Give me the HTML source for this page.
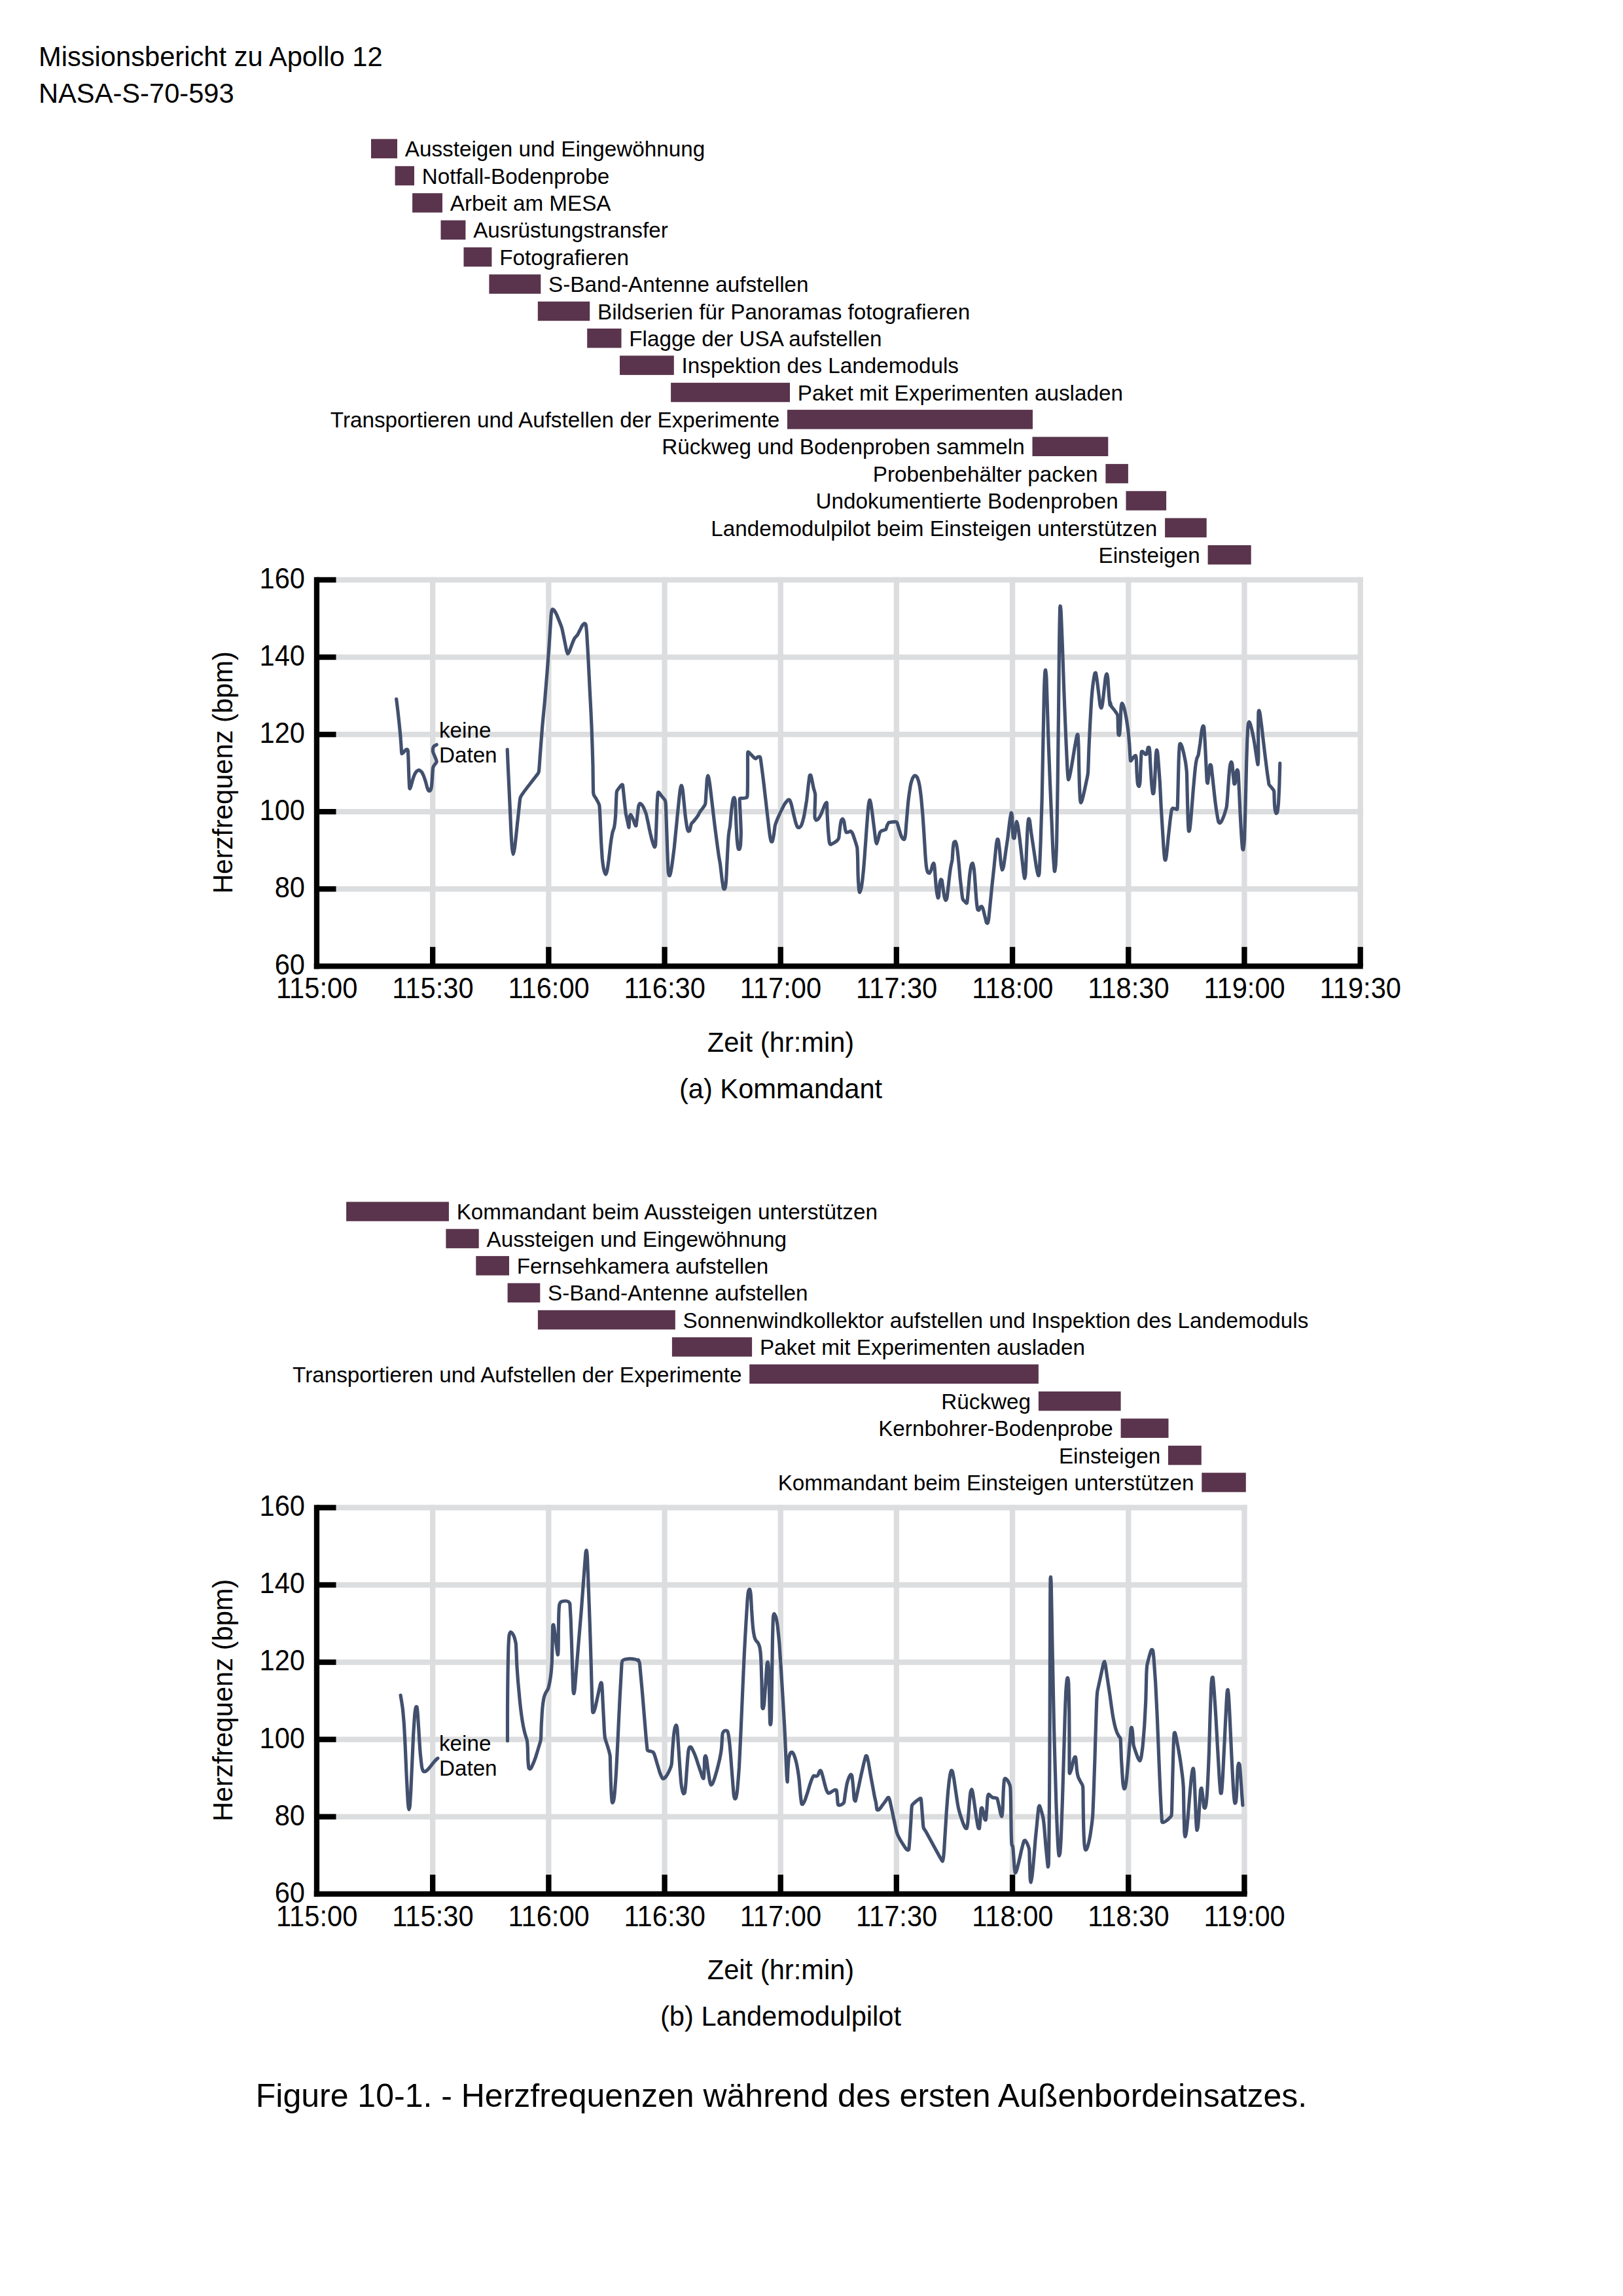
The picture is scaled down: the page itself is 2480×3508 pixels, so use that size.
<!DOCTYPE html>
<html lang="de">
<head>
<meta charset="utf-8">
<title>Figure 10-1 - Herzfrequenzen während des ersten Außenbordeinsatzes</title>
<style>
html,body{margin:0;padding:0;background:#fff;}
body{width:2480px;height:3508px;overflow:hidden;}
svg{display:block;}
text{font-family:"Liberation Sans",sans-serif;fill:#000;}
.l{font-size:33.25px;}
.a{font-size:41.67px;}
.c{font-size:50.00px;}
.k{font-size:33.20px;}
</style>
</head>
<body>
<svg width="2480" height="3508" viewBox="0 0 2480 3508">
<rect width="2480" height="3508" fill="#fff"/>
<text x="59" y="101" class="a">Missionsbericht zu Apollo 12</text>
<text x="59" y="156.7" class="a">NASA-S-70-593</text>
<rect x="567.0" y="212.4" width="40.0" height="29.5" fill="#59344c"/>
<text x="618.8" y="239.3" class="l">Aussteigen und Eingewöhnung</text>
<rect x="603.6" y="253.8" width="29.4" height="29.5" fill="#59344c"/>
<text x="644.8" y="280.7" class="l">Notfall-Bodenprobe</text>
<rect x="630.1" y="295.2" width="45.9" height="29.5" fill="#59344c"/>
<text x="687.8" y="322.0" class="l">Arbeit am MESA</text>
<rect x="673.5" y="336.6" width="37.9" height="29.5" fill="#59344c"/>
<text x="723.2" y="363.4" class="l">Ausrüstungstransfer</text>
<rect x="708.5" y="377.9" width="42.9" height="29.5" fill="#59344c"/>
<text x="763.2" y="404.8" class="l">Fotografieren</text>
<rect x="747.4" y="419.3" width="78.9" height="29.5" fill="#59344c"/>
<text x="838.1" y="446.1" class="l">S-Band-Antenne aufstellen</text>
<rect x="821.8" y="460.7" width="79.4" height="29.5" fill="#59344c"/>
<text x="913.0" y="487.5" class="l">Bildserien für Panoramas fotografieren</text>
<rect x="897.2" y="502.0" width="52.3" height="29.5" fill="#59344c"/>
<text x="961.3" y="528.9" class="l">Flagge der USA aufstellen</text>
<rect x="947.0" y="543.4" width="82.8" height="29.5" fill="#59344c"/>
<text x="1041.6" y="570.3" class="l">Inspektion des Landemoduls</text>
<rect x="1025.1" y="584.8" width="181.9" height="29.5" fill="#59344c"/>
<text x="1218.8" y="611.6" class="l">Paket mit Experimenten ausladen</text>
<rect x="1203.0" y="626.1" width="375.0" height="29.5" fill="#59344c"/>
<text x="1191.2" y="653.0" class="l" text-anchor="end">Transportieren und Aufstellen der Experimente</text>
<rect x="1577.5" y="667.5" width="115.8" height="29.5" fill="#59344c"/>
<text x="1565.7" y="694.4" class="l" text-anchor="end">Rückweg und Bodenproben sammeln</text>
<rect x="1689.4" y="708.9" width="34.5" height="29.5" fill="#59344c"/>
<text x="1677.6" y="735.7" class="l" text-anchor="end">Probenbehälter packen</text>
<rect x="1720.5" y="750.3" width="61.6" height="29.5" fill="#59344c"/>
<text x="1708.7" y="777.1" class="l" text-anchor="end">Undokumentierte Bodenproben</text>
<rect x="1780.1" y="791.6" width="63.6" height="29.5" fill="#59344c"/>
<text x="1768.3" y="818.5" class="l" text-anchor="end">Landemodulpilot beim Einsteigen unterstützen</text>
<rect x="1845.6" y="833.0" width="66.1" height="29.5" fill="#59344c"/>
<text x="1833.8" y="859.9" class="l" text-anchor="end">Einsteigen</text>
<rect x="484.0" y="881.8" width="1598.8" height="8.3" fill="#dcddde"/>
<rect x="484.0" y="999.9" width="1598.8" height="8.3" fill="#dcddde"/>
<rect x="484.0" y="1118.0" width="1598.8" height="8.3" fill="#dcddde"/>
<rect x="484.0" y="1236.0" width="1598.8" height="8.3" fill="#dcddde"/>
<rect x="484.0" y="1354.1" width="1598.8" height="8.3" fill="#dcddde"/>
<rect x="657.0" y="881.8" width="8.3" height="594.5" fill="#dcddde"/>
<rect x="834.2" y="881.8" width="8.3" height="594.5" fill="#dcddde"/>
<rect x="1011.4" y="881.8" width="8.3" height="594.5" fill="#dcddde"/>
<rect x="1188.6" y="881.8" width="8.3" height="594.5" fill="#dcddde"/>
<rect x="1365.7" y="881.8" width="8.3" height="594.5" fill="#dcddde"/>
<rect x="1542.9" y="881.8" width="8.3" height="594.5" fill="#dcddde"/>
<rect x="1720.1" y="881.8" width="8.3" height="594.5" fill="#dcddde"/>
<rect x="1897.3" y="881.8" width="8.3" height="594.5" fill="#dcddde"/>
<rect x="2074.5" y="881.8" width="8.3" height="594.5" fill="#dcddde"/>
<rect x="479.8" y="881.8" width="8.3" height="598.6" fill="#000"/>
<rect x="479.8" y="1472.1" width="1602.9" height="8.3" fill="#000"/>
<rect x="484.0" y="881.8" width="29.5" height="8.3" fill="#000"/>
<rect x="484.0" y="999.9" width="29.5" height="8.3" fill="#000"/>
<rect x="484.0" y="1118.0" width="29.5" height="8.3" fill="#000"/>
<rect x="484.0" y="1236.0" width="29.5" height="8.3" fill="#000"/>
<rect x="484.0" y="1354.1" width="29.5" height="8.3" fill="#000"/>
<rect x="657.0" y="1446.8" width="8.3" height="29.5" fill="#000"/>
<rect x="834.2" y="1446.8" width="8.3" height="29.5" fill="#000"/>
<rect x="1011.4" y="1446.8" width="8.3" height="29.5" fill="#000"/>
<rect x="1188.6" y="1446.8" width="8.3" height="29.5" fill="#000"/>
<rect x="1365.7" y="1446.8" width="8.3" height="29.5" fill="#000"/>
<rect x="1542.9" y="1446.8" width="8.3" height="29.5" fill="#000"/>
<rect x="1720.1" y="1446.8" width="8.3" height="29.5" fill="#000"/>
<rect x="1897.3" y="1446.8" width="8.3" height="29.5" fill="#000"/>
<rect x="2074.5" y="1446.8" width="8.3" height="29.5" fill="#000"/>
<text transform="translate(466 898.8) scale(1 1.045)" class="a" text-anchor="end">160</text>
<text transform="translate(466 1016.9) scale(1 1.045)" class="a" text-anchor="end">140</text>
<text transform="translate(466 1134.9) scale(1 1.045)" class="a" text-anchor="end">120</text>
<text transform="translate(466 1253.0) scale(1 1.045)" class="a" text-anchor="end">100</text>
<text transform="translate(466 1371.0) scale(1 1.045)" class="a" text-anchor="end">80</text>
<text transform="translate(466 1489.1) scale(1 1.045)" class="a" text-anchor="end">60</text>
<text transform="translate(484.2 1525.1) scale(1 1.045)" class="a" text-anchor="middle">115:00</text>
<text transform="translate(661.4 1525.1) scale(1 1.045)" class="a" text-anchor="middle">115:30</text>
<text transform="translate(838.6 1525.1) scale(1 1.045)" class="a" text-anchor="middle">116:00</text>
<text transform="translate(1015.7 1525.1) scale(1 1.045)" class="a" text-anchor="middle">116:30</text>
<text transform="translate(1192.9 1525.1) scale(1 1.045)" class="a" text-anchor="middle">117:00</text>
<text transform="translate(1370.1 1525.1) scale(1 1.045)" class="a" text-anchor="middle">117:30</text>
<text transform="translate(1547.3 1525.1) scale(1 1.045)" class="a" text-anchor="middle">118:00</text>
<text transform="translate(1724.5 1525.1) scale(1 1.045)" class="a" text-anchor="middle">118:30</text>
<text transform="translate(1901.6 1525.1) scale(1 1.045)" class="a" text-anchor="middle">119:00</text>
<text transform="translate(2078.8 1525.1) scale(1 1.045)" class="a" text-anchor="middle">119:30</text>
<path d="M605.7 1068.2 C605.9 1069.8 607.6 1083.5 608.0 1087.0 C608.4 1090.6 610.2 1107.0 610.5 1110.6 C610.9 1114.2 612.1 1127.0 612.3 1130.2 C612.6 1133.3 613.4 1146.4 613.5 1148.2 C613.6 1150.0 613.7 1151.6 613.9 1151.7 C614.1 1151.8 615.8 1150.2 616.3 1149.8 C616.8 1149.3 619.3 1146.2 619.8 1145.8 C620.3 1145.4 621.8 1144.8 622.1 1144.9 C622.4 1145.0 623.2 1145.6 623.3 1146.6 C623.5 1147.7 623.8 1155.0 623.9 1157.6 C624.0 1160.1 624.4 1174.3 624.5 1177.2 C624.6 1180.1 625.0 1190.7 625.1 1192.9 C625.2 1195.1 625.6 1202.4 625.7 1203.5 C625.8 1204.5 626.2 1205.1 626.4 1205.0 C626.5 1204.9 627.3 1203.2 627.6 1202.3 C627.9 1201.3 629.5 1195.2 630.0 1193.7 C630.4 1192.2 632.6 1185.5 633.1 1184.3 C633.6 1183.0 635.7 1179.4 636.3 1178.8 C636.8 1178.1 639.5 1176.5 640.2 1176.6 C640.8 1176.6 643.5 1178.4 644.1 1179.2 C644.7 1179.9 646.7 1183.8 647.2 1185.0 C647.8 1186.3 649.9 1192.9 650.4 1194.4 C650.8 1195.9 652.4 1202.0 652.7 1203.1 C653.1 1204.2 654.4 1207.3 654.7 1207.8 C655.0 1208.2 656.0 1208.6 656.2 1208.6 C656.5 1208.5 657.8 1207.6 658.0 1207.0 C658.3 1206.4 659.2 1202.7 659.4 1201.5 C659.6 1200.3 660.0 1194.6 660.2 1192.9 C660.3 1191.2 660.8 1182.7 660.9 1181.1 C661.1 1179.5 661.3 1174.2 661.5 1173.3 C661.7 1172.4 662.6 1170.7 662.9 1170.1 C663.2 1169.6 664.9 1167.5 665.3 1167.0 C665.6 1166.5 667.1 1164.4 667.2 1163.9 C667.3 1163.3 666.7 1161.4 666.4 1160.7 C666.2 1160.1 664.8 1156.8 664.5 1156.0 C664.2 1155.2 662.8 1152.0 662.5 1151.3 C662.3 1150.6 661.4 1148.1 661.3 1147.4 C661.3 1146.7 661.5 1143.4 661.7 1142.7 C661.9 1142.0 663.2 1140.0 663.7 1139.6 C664.2 1139.2 666.9 1138.0 667.2 1137.8" fill="none" stroke="#42506e" stroke-width="5.2" stroke-linejoin="round" stroke-linecap="round"/>
<path d="M775.2 1145.2 C775.3 1147.7 776.2 1169.1 776.5 1175.3 C776.8 1181.5 778.3 1212.1 778.6 1219.7 C779.0 1227.3 780.4 1260.4 780.7 1266.8 C781.0 1273.1 782.2 1292.3 782.5 1295.5 C782.8 1298.7 783.8 1305.4 784.1 1305.4 C784.4 1305.4 786.0 1298.3 786.4 1295.5 C786.9 1292.7 788.6 1276.3 789.1 1272.0 C789.5 1267.6 791.7 1247.6 792.2 1243.2 C792.7 1238.9 794.3 1222.2 794.8 1219.7 C795.3 1217.2 796.9 1215.0 798.2 1213.2 C799.5 1211.3 808.2 1199.8 810.0 1197.5 C811.7 1195.2 818.0 1187.3 819.1 1185.7 C820.2 1184.2 822.8 1181.6 823.3 1179.2 C823.8 1176.8 824.7 1162.3 825.1 1157.0 C825.5 1151.7 827.7 1122.2 828.3 1115.2 C828.8 1108.2 831.5 1080.8 832.2 1073.4 C832.8 1066.0 835.5 1033.7 836.1 1026.3 C836.7 1018.9 838.7 991.7 839.2 984.5 C839.7 977.3 841.7 944.6 842.1 940.1 C842.5 935.6 843.6 931.6 843.9 931.0 C844.3 930.3 846.0 931.6 846.6 932.3 C847.1 932.9 849.8 937.4 850.5 938.8 C851.1 940.1 853.7 946.7 854.4 948.5 C855.1 950.2 857.9 957.4 858.6 959.7 C859.2 962.1 861.6 973.9 862.2 976.7 C862.8 979.5 865.2 991.8 865.6 993.7 C866.1 995.5 867.1 998.8 867.5 998.9 C867.8 999.0 869.5 996.2 870.1 995.0 C870.6 993.8 873.3 986.2 874.0 984.5 C874.6 982.9 877.2 976.6 877.9 975.4 C878.6 974.2 881.7 971.1 882.4 970.2 C883.0 969.2 885.1 964.8 885.7 963.6 C886.4 962.4 889.1 956.7 889.7 955.8 C890.3 954.9 892.3 952.8 892.8 952.6 C893.3 952.5 894.8 953.1 895.2 954.5 C895.5 955.8 896.4 964.6 896.7 968.9 C897.0 973.1 898.4 998.0 898.8 1005.4 C899.2 1012.8 901.0 1049.0 901.4 1057.7 C901.9 1066.4 903.7 1100.8 904.0 1110.0 C904.4 1119.1 905.7 1159.0 905.9 1167.5 C906.1 1175.9 906.3 1207.5 906.7 1211.9 C907.0 1216.2 909.8 1218.2 910.6 1219.7 C911.3 1221.2 915.3 1227.6 915.8 1230.2 C916.3 1232.8 916.9 1246.7 917.1 1251.1 C917.3 1255.4 918.2 1277.4 918.4 1282.4 C918.7 1287.4 919.9 1307.3 920.2 1311.2 C920.6 1315.1 922.4 1327.4 922.9 1329.5 C923.3 1331.5 925.1 1335.9 925.5 1336.0 C925.9 1336.1 927.2 1332.6 927.6 1330.8 C928.0 1328.9 929.7 1317.4 930.2 1313.8 C930.7 1310.2 932.8 1291.1 933.3 1287.7 C933.8 1284.2 935.5 1273.9 935.9 1272.0 C936.4 1270.0 938.1 1266.3 938.5 1264.1 C938.9 1262.0 940.3 1250.3 940.6 1245.9 C940.9 1241.4 941.8 1214.1 942.2 1210.6 C942.6 1207.1 945.2 1205.0 945.9 1204.0 C946.5 1203.1 949.3 1199.7 949.8 1199.3 C950.3 1199.0 951.3 1198.4 951.6 1200.1 C951.9 1201.8 953.3 1216.1 953.7 1219.7 C954.1 1223.3 955.8 1240.1 956.3 1243.2 C956.8 1246.4 959.1 1255.9 959.4 1257.6 C959.8 1259.4 960.8 1264.9 961.0 1264.1 C961.2 1263.4 961.8 1250.1 962.1 1248.5 C962.3 1246.8 963.2 1244.4 963.6 1244.5 C964.0 1244.7 966.2 1248.6 966.8 1249.8 C967.3 1251.0 969.5 1257.9 969.9 1258.9 C970.3 1259.9 971.6 1262.6 972.0 1261.5 C972.3 1260.4 973.7 1248.4 974.0 1245.9 C974.3 1243.3 975.5 1233.0 975.8 1231.5 C976.1 1230.0 977.4 1227.7 977.9 1227.6 C978.3 1227.5 980.7 1229.5 981.3 1230.2 C981.8 1230.9 983.9 1234.7 984.4 1235.9 C984.9 1237.1 987.0 1242.5 987.6 1244.5 C988.1 1246.6 990.4 1257.6 991.0 1260.2 C991.5 1262.8 993.8 1273.6 994.4 1275.9 C994.9 1278.2 997.0 1286.1 997.5 1287.7 C998.0 1289.2 999.8 1294.0 1000.1 1294.2 C1000.5 1294.4 1001.5 1292.6 1001.7 1290.3 C1001.9 1288.0 1002.5 1271.8 1002.7 1266.8 C1002.9 1261.8 1003.8 1234.7 1004.0 1230.2 C1004.2 1225.6 1005.1 1213.5 1005.3 1211.9 C1005.5 1210.2 1006.2 1210.2 1006.6 1210.6 C1007.1 1210.9 1009.8 1214.8 1010.6 1215.8 C1011.4 1216.8 1015.7 1221.7 1016.3 1222.9 C1016.9 1224.1 1017.2 1227.2 1017.4 1230.2 C1017.5 1233.2 1018.2 1253.3 1018.4 1258.9 C1018.6 1264.6 1019.5 1292.2 1019.7 1298.1 C1019.9 1304.0 1020.8 1326.2 1021.0 1329.5 C1021.2 1332.8 1022.3 1337.3 1022.6 1337.8 C1022.8 1338.4 1023.8 1337.4 1024.1 1336.0 C1024.5 1334.7 1026.3 1325.0 1026.8 1321.6 C1027.3 1318.3 1029.6 1300.5 1030.2 1295.5 C1030.7 1290.5 1033.0 1267.0 1033.6 1261.5 C1034.1 1256.1 1036.2 1234.7 1036.7 1230.2 C1037.2 1225.6 1038.9 1209.2 1039.3 1206.7 C1039.7 1204.2 1040.8 1200.3 1041.1 1200.1 C1041.4 1199.9 1042.4 1202.4 1042.7 1204.0 C1043.0 1205.7 1044.2 1216.2 1044.5 1219.7 C1044.9 1223.2 1046.7 1242.2 1047.1 1245.9 C1047.6 1249.6 1049.4 1262.1 1049.8 1264.1 C1050.1 1266.1 1051.5 1269.5 1051.8 1269.9 C1052.2 1270.3 1053.6 1269.8 1053.9 1268.9 C1054.3 1267.9 1055.8 1260.1 1056.3 1258.9 C1056.8 1257.7 1059.3 1255.6 1060.2 1254.5 C1061.1 1253.4 1066.0 1247.0 1066.7 1245.9 C1067.5 1244.7 1068.8 1241.5 1069.4 1240.6 C1069.9 1239.8 1072.6 1236.4 1073.3 1235.4 C1074.0 1234.4 1077.2 1230.3 1077.7 1228.3 C1078.2 1226.4 1078.8 1215.0 1079.0 1211.9 C1079.2 1208.8 1080.1 1193.2 1080.3 1191.0 C1080.6 1188.8 1081.6 1185.1 1081.9 1185.2 C1082.2 1185.3 1083.4 1190.1 1083.7 1192.3 C1084.1 1194.5 1085.8 1207.4 1086.3 1211.9 C1086.9 1216.3 1089.6 1240.4 1090.3 1245.9 C1090.9 1251.3 1093.5 1272.2 1094.2 1277.2 C1094.8 1282.2 1097.6 1302.3 1098.1 1306.0 C1098.6 1309.7 1100.3 1318.5 1100.7 1321.6 C1101.1 1324.8 1102.9 1340.9 1103.3 1343.9 C1103.7 1346.8 1105.1 1355.7 1105.4 1356.9 C1105.7 1358.1 1106.9 1358.8 1107.2 1358.2 C1107.6 1357.7 1108.8 1353.2 1109.1 1350.4 C1109.4 1347.6 1110.4 1329.5 1110.6 1324.3 C1110.9 1319.0 1112.2 1292.0 1112.5 1287.7 C1112.7 1283.3 1113.5 1274.2 1113.8 1272.0 C1114.0 1269.8 1115.3 1264.4 1115.6 1261.5 C1115.9 1258.7 1117.3 1241.4 1117.7 1238.0 C1118.1 1234.6 1119.9 1222.6 1120.3 1221.0 C1120.7 1219.4 1121.9 1218.4 1122.1 1218.9 C1122.4 1219.5 1123.5 1224.4 1123.7 1227.6 C1123.9 1230.7 1124.5 1251.6 1124.8 1256.3 C1125.0 1261.0 1126.0 1280.4 1126.3 1283.7 C1126.6 1287.1 1127.8 1295.7 1128.2 1296.8 C1128.5 1297.9 1129.7 1297.9 1130.0 1297.3 C1130.3 1296.8 1131.4 1292.4 1131.6 1290.3 C1131.7 1288.2 1132.4 1275.7 1132.3 1272.0 C1132.3 1268.3 1131.5 1250.1 1131.3 1245.9 C1131.1 1241.6 1130.0 1223.2 1130.2 1221.0 C1130.5 1218.9 1133.9 1219.9 1134.7 1219.7 C1135.5 1219.5 1139.3 1219.3 1139.9 1218.9 C1140.5 1218.6 1141.8 1219.0 1142.0 1215.8 C1142.2 1212.6 1142.5 1186.0 1142.5 1180.5 C1142.6 1175.1 1142.4 1153.1 1142.5 1150.5 C1142.6 1147.9 1143.4 1148.9 1143.8 1149.2 C1144.3 1149.4 1147.0 1152.3 1147.8 1153.1 C1148.5 1153.8 1152.4 1157.8 1153.0 1158.3 C1153.6 1158.8 1154.4 1159.2 1154.8 1159.1 C1155.2 1158.9 1157.7 1156.7 1158.2 1156.5 C1158.8 1156.3 1161.0 1156.0 1161.3 1156.5 C1161.7 1157.0 1162.3 1159.6 1162.6 1162.2 C1163.0 1164.9 1165.4 1183.4 1166.0 1188.4 C1166.7 1193.4 1169.3 1216.7 1170.0 1222.3 C1170.6 1228.0 1173.3 1251.7 1173.9 1256.3 C1174.4 1260.9 1176.1 1274.8 1176.5 1277.2 C1176.9 1279.7 1178.3 1285.2 1178.6 1285.8 C1178.9 1286.5 1180.1 1286.0 1180.4 1285.1 C1180.7 1284.1 1182.2 1276.6 1182.5 1274.6 C1182.8 1272.6 1184.0 1263.3 1184.3 1261.5 C1184.7 1259.8 1186.3 1255.3 1187.0 1253.7 C1187.6 1252.1 1191.2 1244.0 1192.2 1241.9 C1193.2 1239.9 1197.7 1230.5 1198.7 1228.9 C1199.7 1227.2 1203.3 1222.9 1203.9 1222.3 C1204.6 1221.8 1206.1 1221.8 1206.6 1222.3 C1207.0 1222.9 1208.6 1226.9 1209.2 1228.9 C1209.7 1230.8 1212.5 1243.3 1213.1 1245.9 C1213.7 1248.4 1216.0 1257.4 1216.5 1258.9 C1217.0 1260.4 1218.7 1263.7 1219.1 1264.1 C1219.5 1264.6 1221.2 1264.5 1221.7 1264.1 C1222.2 1263.8 1224.3 1261.8 1224.8 1260.2 C1225.4 1258.7 1228.1 1249.0 1228.8 1245.9 C1229.4 1242.7 1232.1 1226.3 1232.7 1222.3 C1233.2 1218.4 1234.9 1201.9 1235.3 1198.8 C1235.7 1195.7 1236.8 1186.4 1237.1 1185.2 C1237.4 1184.0 1238.4 1184.0 1238.7 1184.4 C1239.0 1184.9 1240.2 1189.3 1240.5 1191.0 C1240.9 1192.6 1242.7 1202.1 1243.1 1204.0 C1243.6 1206.0 1245.6 1211.6 1245.7 1214.0 C1245.9 1216.4 1245.3 1229.9 1245.2 1232.8 C1245.2 1235.7 1244.8 1246.8 1245.0 1248.5 C1245.1 1250.2 1246.6 1253.0 1247.1 1253.2 C1247.5 1253.4 1249.8 1251.9 1250.5 1251.1 C1251.1 1250.3 1254.1 1245.0 1254.9 1243.2 C1255.7 1241.5 1259.4 1231.6 1260.1 1230.2 C1260.8 1228.8 1262.9 1225.2 1263.3 1226.3 C1263.6 1227.3 1263.9 1239.9 1264.0 1243.2 C1264.2 1246.6 1265.1 1263.2 1265.3 1266.8 C1265.6 1270.4 1266.9 1284.4 1267.2 1286.4 C1267.5 1288.3 1268.7 1290.2 1269.3 1290.3 C1269.9 1290.4 1273.6 1288.2 1274.5 1287.7 C1275.4 1287.1 1279.1 1284.4 1279.7 1283.7 C1280.3 1283.1 1281.5 1281.5 1281.8 1279.8 C1282.1 1278.2 1283.3 1266.3 1283.6 1264.1 C1283.9 1262.0 1285.1 1254.8 1285.5 1253.7 C1285.8 1252.6 1287.2 1251.0 1287.6 1251.1 C1287.9 1251.2 1289.3 1253.7 1289.7 1255.0 C1290.0 1256.3 1291.2 1265.3 1291.5 1266.8 C1291.8 1268.2 1292.9 1271.6 1293.3 1272.0 C1293.7 1272.4 1296.1 1271.4 1296.7 1271.2 C1297.3 1271.0 1299.6 1269.6 1300.1 1269.9 C1300.6 1270.2 1302.7 1273.2 1303.2 1274.6 C1303.8 1276.0 1306.6 1284.6 1307.2 1286.4 C1307.7 1288.1 1309.5 1293.4 1309.8 1295.5 C1310.1 1297.6 1310.4 1307.7 1310.6 1311.2 C1310.7 1314.7 1310.9 1333.4 1311.1 1337.3 C1311.2 1341.2 1312.2 1356.0 1312.4 1358.2 C1312.6 1360.4 1313.4 1363.7 1313.7 1363.4 C1314.0 1363.2 1315.9 1358.0 1316.3 1355.6 C1316.7 1353.2 1318.5 1339.1 1318.9 1334.7 C1319.4 1330.3 1321.1 1309.0 1321.5 1303.3 C1322.0 1297.7 1323.7 1272.6 1324.1 1266.8 C1324.6 1260.9 1326.4 1236.5 1326.8 1232.8 C1327.2 1229.1 1328.5 1222.8 1328.9 1222.3 C1329.2 1221.9 1330.3 1225.6 1330.7 1227.6 C1331.0 1229.5 1332.9 1242.6 1333.3 1245.9 C1333.7 1249.1 1335.5 1263.6 1335.9 1266.8 C1336.3 1269.9 1337.7 1281.9 1338.0 1283.7 C1338.3 1285.6 1339.4 1289.1 1339.7 1289.0 C1340.0 1288.9 1341.4 1283.9 1341.8 1282.4 C1342.2 1281.0 1344.0 1273.1 1344.4 1272.0 C1344.9 1270.9 1346.3 1269.8 1347.0 1269.4 C1347.8 1269.0 1352.9 1267.9 1353.6 1267.3 C1354.3 1266.6 1355.0 1262.4 1355.4 1261.5 C1355.8 1260.7 1357.3 1257.3 1358.0 1256.8 C1358.7 1256.4 1363.1 1255.9 1364.0 1255.8 C1365.0 1255.7 1368.7 1255.6 1369.3 1255.8 C1369.8 1255.9 1370.7 1256.7 1371.1 1257.6 C1371.5 1258.5 1373.2 1265.1 1373.7 1266.8 C1374.2 1268.4 1376.6 1276.0 1377.1 1277.2 C1377.6 1278.5 1379.3 1281.2 1379.7 1281.7 C1380.1 1282.1 1381.5 1283.0 1381.8 1282.4 C1382.1 1281.9 1383.3 1277.2 1383.6 1274.6 C1383.9 1272.0 1385.1 1255.0 1385.5 1251.1 C1385.8 1247.2 1387.2 1231.3 1387.5 1227.6 C1387.9 1223.9 1389.7 1209.6 1390.2 1206.7 C1390.6 1203.7 1392.7 1194.0 1393.3 1192.3 C1393.8 1190.5 1396.2 1186.3 1396.7 1185.7 C1397.2 1185.2 1398.8 1184.9 1399.3 1185.2 C1399.8 1185.6 1401.9 1188.3 1402.4 1189.7 C1402.9 1191.0 1404.9 1198.9 1405.3 1201.4 C1405.7 1203.9 1407.3 1216.2 1407.7 1219.7 C1408.0 1223.2 1409.4 1238.9 1409.8 1243.2 C1410.1 1247.6 1411.5 1267.0 1411.8 1272.0 C1412.2 1277.0 1413.4 1299.0 1413.7 1303.3 C1414.0 1307.7 1415.2 1321.8 1415.5 1324.3 C1415.8 1326.7 1417.2 1331.8 1417.6 1332.6 C1418.0 1333.4 1419.8 1334.4 1420.2 1334.2 C1420.6 1333.9 1422.4 1330.5 1422.8 1329.5 C1423.2 1328.4 1424.6 1322.5 1424.9 1321.6 C1425.2 1320.8 1426.5 1318.8 1426.7 1319.0 C1427.0 1319.2 1427.8 1322.3 1428.0 1324.3 C1428.3 1326.2 1429.1 1339.3 1429.4 1342.5 C1429.6 1345.8 1431.1 1361.0 1431.4 1363.4 C1431.8 1365.9 1433.0 1371.4 1433.3 1371.8 C1433.5 1372.2 1434.4 1370.5 1434.6 1368.7 C1434.8 1366.9 1435.6 1352.5 1435.9 1350.4 C1436.1 1348.3 1437.4 1344.3 1437.7 1343.9 C1438.0 1343.4 1439.0 1344.0 1439.3 1345.2 C1439.6 1346.4 1440.8 1356.0 1441.1 1358.2 C1441.4 1360.4 1442.9 1369.8 1443.2 1371.3 C1443.6 1372.7 1445.0 1375.7 1445.3 1375.7 C1445.6 1375.7 1446.8 1373.4 1447.1 1371.3 C1447.5 1369.2 1449.0 1354.1 1449.5 1350.4 C1449.9 1346.7 1451.9 1329.9 1452.4 1326.9 C1452.8 1323.8 1454.6 1316.4 1455.0 1313.8 C1455.3 1311.2 1456.1 1297.7 1456.3 1295.5 C1456.5 1293.3 1457.3 1287.9 1457.6 1287.1 C1457.9 1286.3 1459.6 1285.4 1459.9 1285.8 C1460.3 1286.3 1461.6 1290.6 1462.0 1292.9 C1462.4 1295.2 1464.2 1309.7 1464.6 1313.8 C1465.1 1317.9 1466.8 1338.2 1467.2 1342.5 C1467.7 1346.9 1469.5 1363.4 1469.9 1366.1 C1470.2 1368.7 1470.8 1373.0 1471.2 1373.9 C1471.5 1374.8 1473.3 1376.6 1473.8 1377.0 C1474.2 1377.5 1476.1 1379.5 1476.4 1379.7 C1476.7 1379.8 1477.4 1380.7 1477.7 1379.1 C1478.0 1377.6 1479.2 1364.3 1479.5 1360.8 C1479.9 1357.4 1481.2 1340.6 1481.6 1337.3 C1482.0 1334.1 1483.8 1323.2 1484.2 1321.6 C1484.6 1320.1 1486.0 1318.6 1486.3 1319.0 C1486.7 1319.5 1487.8 1324.5 1488.2 1326.9 C1488.5 1329.3 1489.7 1343.6 1490.0 1347.8 C1490.3 1351.9 1491.7 1373.0 1492.1 1376.5 C1492.4 1380.0 1493.6 1388.4 1493.9 1389.6 C1494.2 1390.7 1495.6 1390.7 1496.0 1390.4 C1496.3 1390.0 1497.8 1386.1 1498.1 1385.7 C1498.4 1385.2 1499.6 1384.7 1499.9 1384.9 C1500.2 1385.1 1501.6 1387.1 1502.0 1388.3 C1502.4 1389.4 1504.2 1397.0 1504.6 1398.7 C1505.1 1400.5 1506.9 1408.2 1507.2 1409.2 C1507.6 1410.2 1508.8 1411.0 1509.1 1410.5 C1509.4 1409.9 1510.6 1405.0 1510.9 1402.6 C1511.2 1400.3 1512.6 1385.7 1513.0 1381.7 C1513.4 1377.8 1515.1 1360.4 1515.6 1355.6 C1516.1 1350.8 1518.4 1329.5 1519.0 1324.3 C1519.5 1319.0 1521.7 1296.4 1522.1 1292.9 C1522.5 1289.4 1523.7 1283.2 1524.0 1282.4 C1524.2 1281.7 1525.2 1282.4 1525.5 1283.7 C1525.8 1285.1 1527.0 1295.2 1527.4 1298.1 C1527.7 1301.1 1529.1 1316.5 1529.4 1319.0 C1529.8 1321.6 1530.9 1328.5 1531.3 1329.0 C1531.6 1329.4 1532.9 1326.4 1533.4 1324.3 C1533.8 1322.1 1536.0 1307.0 1536.5 1303.3 C1537.0 1299.6 1539.4 1284.0 1539.9 1279.8 C1540.4 1275.7 1542.6 1256.9 1543.0 1253.7 C1543.5 1250.5 1544.8 1242.6 1545.1 1241.9 C1545.4 1241.3 1546.3 1243.8 1546.4 1245.9 C1546.6 1247.9 1547.1 1263.9 1547.2 1266.8 C1547.4 1269.6 1548.0 1278.7 1548.3 1279.8 C1548.5 1280.9 1550.0 1281.4 1550.3 1279.8 C1550.7 1278.3 1551.9 1263.6 1552.2 1261.5 C1552.4 1259.5 1553.2 1255.0 1553.5 1255.0 C1553.7 1255.0 1554.9 1259.2 1555.3 1261.5 C1555.7 1263.8 1557.7 1278.5 1558.2 1282.4 C1558.7 1286.4 1560.8 1304.4 1561.3 1308.6 C1561.8 1312.7 1563.6 1329.3 1563.9 1332.1 C1564.3 1334.9 1565.2 1341.8 1565.5 1342.0 C1565.8 1342.2 1566.8 1338.4 1567.1 1334.7 C1567.3 1331.0 1568.4 1304.0 1568.6 1298.1 C1568.9 1292.2 1569.9 1268.1 1570.2 1264.1 C1570.5 1260.2 1571.5 1252.0 1571.8 1251.1 C1572.0 1250.2 1573.0 1252.0 1573.3 1253.7 C1573.7 1255.4 1575.2 1268.3 1575.7 1272.0 C1576.2 1275.7 1579.0 1293.8 1579.6 1298.1 C1580.3 1302.5 1582.9 1320.9 1583.5 1324.3 C1584.1 1327.6 1586.3 1337.2 1586.7 1337.8 C1587.1 1338.5 1588.0 1336.3 1588.2 1332.1 C1588.5 1327.9 1589.7 1297.0 1590.1 1287.7 C1590.4 1278.3 1591.8 1233.0 1592.2 1219.7 C1592.5 1206.4 1593.7 1141.3 1594.0 1128.3 C1594.3 1115.2 1595.1 1071.2 1595.3 1062.9 C1595.5 1054.7 1596.4 1032.2 1596.6 1029.0 C1596.8 1025.7 1597.5 1023.1 1597.6 1023.7 C1597.8 1024.4 1598.7 1031.8 1599.0 1036.8 C1599.2 1041.8 1600.2 1075.1 1600.5 1083.8 C1600.8 1092.5 1602.0 1132.2 1602.4 1141.3 C1602.7 1150.5 1604.1 1184.0 1604.4 1193.6 C1604.8 1203.2 1606.7 1247.2 1607.1 1256.3 C1607.4 1265.5 1608.8 1297.2 1609.1 1303.3 C1609.5 1309.4 1610.8 1327.2 1611.0 1329.5 C1611.2 1331.8 1611.6 1331.4 1611.8 1330.8 C1611.9 1330.1 1612.8 1325.2 1613.1 1321.6 C1613.3 1318.0 1614.4 1298.3 1614.6 1287.7 C1614.9 1277.0 1616.0 1210.1 1616.2 1193.6 C1616.4 1177.0 1617.3 1106.5 1617.5 1089.1 C1617.7 1071.6 1618.4 997.8 1618.6 984.5 C1618.7 971.2 1619.4 934.5 1619.6 929.7 C1619.8 924.8 1620.2 925.9 1620.4 926.5 C1620.5 927.2 1621.2 932.7 1621.4 937.5 C1621.7 942.3 1622.9 975.8 1623.3 984.5 C1623.6 993.2 1625.0 1031.6 1625.3 1042.0 C1625.7 1052.5 1627.5 1099.5 1628.0 1110.0 C1628.4 1120.4 1630.2 1160.7 1630.6 1167.5 C1630.9 1174.2 1632.1 1189.5 1632.4 1191.0 C1632.7 1192.5 1634.0 1187.9 1634.5 1185.7 C1635.0 1183.6 1637.8 1168.5 1638.4 1164.8 C1639.1 1161.1 1641.7 1144.7 1642.3 1141.3 C1642.9 1137.9 1645.1 1125.9 1645.5 1124.3 C1645.9 1122.8 1646.8 1121.1 1647.0 1122.5 C1647.3 1123.9 1647.9 1136.5 1648.1 1141.3 C1648.2 1146.2 1648.7 1174.2 1648.9 1180.5 C1649.0 1186.8 1650.0 1213.3 1650.2 1217.1 C1650.4 1220.9 1651.2 1225.8 1651.5 1226.3 C1651.8 1226.7 1653.1 1223.8 1653.6 1222.3 C1654.0 1220.9 1656.2 1211.7 1656.7 1209.3 C1657.3 1206.9 1659.6 1196.0 1660.1 1193.6 C1660.6 1191.2 1662.1 1184.9 1662.5 1180.5 C1662.8 1176.2 1663.7 1147.9 1664.0 1141.3 C1664.3 1134.8 1665.5 1108.2 1665.9 1102.1 C1666.2 1096.0 1667.6 1073.2 1667.9 1068.2 C1668.3 1063.1 1670.1 1045.3 1670.6 1042.0 C1671.0 1038.8 1672.6 1030.1 1672.9 1029.0 C1673.2 1027.8 1674.2 1027.6 1674.5 1028.4 C1674.8 1029.3 1675.9 1036.8 1676.3 1039.4 C1676.7 1042.1 1678.5 1057.2 1678.9 1060.3 C1679.3 1063.5 1680.7 1075.5 1681.0 1077.3 C1681.3 1079.1 1682.5 1082.1 1682.8 1081.7 C1683.2 1081.4 1684.6 1075.8 1684.9 1073.4 C1685.3 1070.9 1686.9 1055.7 1687.3 1052.5 C1687.7 1049.2 1689.0 1036.1 1689.4 1034.2 C1689.7 1032.3 1690.9 1029.5 1691.2 1029.7 C1691.5 1030.0 1692.5 1034.0 1692.8 1036.8 C1693.1 1039.6 1694.3 1059.6 1694.6 1062.9 C1694.9 1066.3 1696.0 1076.4 1696.2 1077.3 C1696.3 1078.2 1696.4 1073.3 1696.6 1073.4 C1696.7 1073.5 1697.5 1077.7 1697.9 1078.6 C1698.3 1079.5 1701.2 1083.0 1701.8 1083.8 C1702.5 1084.7 1705.2 1088.3 1705.7 1089.1 C1706.2 1089.8 1707.6 1091.2 1707.8 1093.0 C1708.0 1094.7 1708.3 1107.6 1708.3 1110.0 C1708.4 1112.4 1708.7 1120.6 1708.9 1121.7 C1709.0 1122.8 1710.2 1124.0 1710.4 1123.0 C1710.7 1122.1 1711.5 1113.4 1711.7 1110.0 C1712.0 1106.5 1712.8 1084.2 1713.0 1081.2 C1713.3 1078.3 1714.1 1075.0 1714.4 1074.7 C1714.6 1074.4 1715.8 1076.3 1716.2 1077.3 C1716.6 1078.3 1718.4 1084.6 1718.8 1086.4 C1719.2 1088.3 1721.0 1096.9 1721.4 1099.5 C1721.8 1102.1 1723.7 1114.5 1724.0 1117.8 C1724.4 1121.1 1725.6 1135.1 1725.9 1138.7 C1726.1 1142.4 1727.1 1159.9 1727.4 1161.7 C1727.7 1163.6 1728.8 1161.4 1729.3 1160.9 C1729.7 1160.4 1732.7 1156.2 1733.2 1155.7 C1733.7 1155.2 1735.0 1154.1 1735.3 1154.4 C1735.5 1154.7 1736.2 1157.4 1736.3 1159.6 C1736.5 1161.8 1736.9 1177.4 1737.1 1180.5 C1737.3 1183.7 1738.1 1195.8 1738.4 1197.5 C1738.7 1199.3 1740.2 1201.8 1740.5 1201.4 C1740.8 1201.1 1741.8 1196.4 1742.1 1193.6 C1742.3 1190.8 1742.9 1171.2 1743.1 1167.5 C1743.3 1163.8 1743.9 1150.8 1744.1 1149.2 C1744.4 1147.6 1745.7 1148.1 1746.2 1148.4 C1746.7 1148.7 1749.7 1152.3 1750.2 1152.6 C1750.7 1152.8 1751.9 1152.6 1752.2 1151.8 C1752.6 1150.9 1753.8 1143.4 1754.1 1142.6 C1754.4 1141.8 1755.7 1141.6 1755.9 1142.1 C1756.1 1142.7 1756.8 1146.4 1757.0 1149.2 C1757.1 1151.9 1758.0 1171.2 1758.3 1175.3 C1758.5 1179.4 1759.6 1195.8 1759.8 1198.8 C1760.1 1201.9 1761.1 1210.8 1761.4 1211.9 C1761.7 1212.9 1762.7 1212.9 1763.0 1211.4 C1763.2 1209.8 1764.3 1198.1 1764.5 1193.6 C1764.8 1189.1 1765.9 1161.0 1766.1 1157.0 C1766.3 1153.0 1767.2 1146.7 1767.4 1146.0 C1767.6 1145.4 1768.5 1147.4 1768.7 1149.2 C1769.0 1150.9 1770.0 1163.5 1770.3 1167.5 C1770.6 1171.4 1772.0 1190.8 1772.4 1196.2 C1772.7 1201.6 1773.9 1226.9 1774.2 1232.8 C1774.5 1238.7 1776.0 1261.5 1776.3 1266.8 C1776.6 1272.0 1777.8 1291.7 1778.1 1295.5 C1778.4 1299.3 1779.4 1311.0 1779.7 1312.5 C1779.9 1314.0 1780.7 1314.6 1781.0 1313.8 C1781.3 1313.0 1782.5 1306.4 1782.8 1303.3 C1783.2 1300.3 1785.0 1281.4 1785.4 1277.2 C1785.9 1273.1 1787.7 1256.9 1788.0 1253.7 C1788.4 1250.5 1789.8 1240.1 1790.1 1238.5 C1790.5 1237.0 1791.5 1235.1 1792.0 1234.9 C1792.4 1234.7 1795.3 1235.8 1795.9 1235.9 C1796.5 1236.0 1798.7 1237.7 1799.0 1235.9 C1799.4 1234.1 1799.6 1220.6 1799.8 1214.5 C1800.0 1208.4 1800.9 1168.5 1801.1 1162.2 C1801.3 1155.9 1802.2 1140.9 1802.4 1138.7 C1802.6 1136.5 1803.4 1136.0 1803.7 1136.1 C1804.0 1136.2 1805.4 1138.7 1805.8 1140.0 C1806.3 1141.3 1808.5 1149.7 1809.0 1151.8 C1809.4 1153.8 1811.2 1162.4 1811.6 1164.8 C1811.9 1167.2 1813.2 1176.6 1813.4 1180.5 C1813.6 1184.4 1814.0 1206.0 1814.2 1211.9 C1814.3 1217.8 1815.1 1246.3 1815.2 1251.1 C1815.4 1255.9 1816.1 1268.0 1816.3 1269.4 C1816.5 1270.8 1817.5 1269.8 1817.8 1268.1 C1818.1 1266.3 1819.5 1253.6 1819.9 1248.5 C1820.4 1243.3 1822.8 1213.0 1823.3 1206.7 C1823.9 1200.3 1826.0 1176.6 1826.5 1172.7 C1826.9 1168.8 1828.2 1161.2 1828.6 1159.6 C1828.9 1158.0 1830.7 1155.0 1831.2 1153.1 C1831.6 1151.1 1833.3 1139.3 1833.8 1136.1 C1834.2 1132.9 1836.0 1117.4 1836.4 1115.2 C1836.8 1113.0 1837.9 1109.8 1838.2 1109.4 C1838.5 1109.1 1839.6 1109.5 1839.8 1111.3 C1840.0 1113.1 1840.8 1126.2 1841.1 1130.9 C1841.4 1135.6 1842.7 1162.2 1842.9 1167.5 C1843.2 1172.7 1844.0 1191.2 1844.2 1193.6 C1844.5 1196.0 1845.3 1197.3 1845.5 1196.2 C1845.8 1195.1 1847.1 1182.8 1847.4 1180.5 C1847.7 1178.2 1848.7 1169.6 1848.9 1168.8 C1849.2 1167.9 1850.4 1168.4 1850.8 1170.1 C1851.1 1171.7 1852.4 1184.4 1852.9 1188.4 C1853.3 1192.3 1855.5 1212.8 1856.0 1217.1 C1856.5 1221.5 1858.6 1237.5 1859.1 1240.6 C1859.6 1243.8 1861.4 1253.6 1861.7 1255.0 C1862.1 1256.4 1863.4 1257.6 1863.8 1257.6 C1864.2 1257.6 1865.9 1256.0 1866.4 1255.0 C1867.0 1254.0 1869.7 1247.7 1870.4 1245.9 C1871.0 1244.0 1873.8 1235.4 1874.3 1232.8 C1874.7 1230.2 1875.6 1218.2 1875.9 1214.5 C1876.1 1210.8 1877.4 1192.1 1877.7 1188.4 C1878.0 1184.7 1879.2 1172.1 1879.5 1170.1 C1879.8 1168.1 1881.1 1164.5 1881.3 1164.3 C1881.6 1164.1 1882.7 1165.9 1882.9 1167.5 C1883.1 1169.0 1884.0 1180.6 1884.2 1183.1 C1884.5 1185.6 1885.5 1196.4 1885.8 1197.5 C1886.0 1198.6 1887.1 1197.6 1887.4 1196.2 C1887.6 1194.8 1888.7 1182.2 1888.9 1180.5 C1889.2 1178.8 1890.2 1176.1 1890.5 1176.1 C1890.7 1176.1 1891.8 1178.0 1892.1 1180.5 C1892.3 1183.1 1893.1 1201.2 1893.4 1206.7 C1893.6 1212.1 1894.9 1240.0 1895.2 1245.9 C1895.5 1251.7 1896.7 1273.0 1897.0 1277.2 C1897.3 1281.5 1898.3 1295.1 1898.6 1296.8 C1898.8 1298.5 1899.7 1298.8 1899.9 1297.6 C1900.1 1296.4 1901.2 1287.8 1901.5 1282.4 C1901.7 1277.0 1902.8 1242.4 1903.0 1232.8 C1903.3 1223.2 1904.4 1176.2 1904.6 1167.5 C1904.8 1158.7 1905.7 1133.3 1905.9 1128.3 C1906.1 1123.2 1907.0 1109.5 1907.2 1107.4 C1907.5 1105.2 1908.5 1102.9 1908.8 1102.9 C1909.1 1102.9 1910.4 1105.9 1910.9 1107.4 C1911.3 1108.8 1913.5 1117.8 1914.0 1120.4 C1914.6 1123.0 1916.9 1135.4 1917.4 1138.7 C1917.9 1142.0 1920.1 1157.2 1920.5 1159.6 C1920.9 1162.1 1921.9 1168.7 1922.1 1168.2 C1922.3 1167.8 1922.8 1158.8 1922.9 1154.4 C1922.9 1150.0 1922.6 1120.6 1922.6 1115.2 C1922.6 1109.7 1922.8 1091.5 1922.9 1089.1 C1923.0 1086.6 1923.7 1085.4 1923.9 1085.7 C1924.2 1085.9 1925.2 1089.6 1925.5 1091.7 C1925.8 1093.7 1927.3 1105.6 1927.9 1110.0 C1928.4 1114.3 1931.1 1138.5 1931.8 1143.9 C1932.4 1149.4 1935.2 1171.2 1935.7 1175.3 C1936.2 1179.4 1938.0 1191.6 1938.3 1193.6 C1938.6 1195.5 1938.7 1197.9 1939.1 1198.8 C1939.5 1199.7 1942.9 1203.2 1943.5 1204.0 C1944.2 1204.9 1946.4 1207.2 1946.7 1208.7 C1947.0 1210.3 1947.1 1220.0 1947.2 1222.3 C1947.3 1224.7 1948.0 1235.0 1948.2 1236.7 C1948.5 1238.4 1949.8 1242.4 1950.1 1242.7 C1950.4 1243.0 1951.6 1241.9 1951.9 1240.6 C1952.2 1239.4 1953.2 1230.8 1953.5 1227.6 C1953.7 1224.3 1954.6 1206.5 1954.8 1201.4 C1955.0 1196.3 1955.7 1169.1 1955.8 1166.1" fill="none" stroke="#42506e" stroke-width="5.2" stroke-linejoin="round" stroke-linecap="round"/>
<text x="671" y="1126.7" class="k">keine</text>
<text x="671" y="1164.7" class="k">Daten</text>
<text transform="translate(354.5 1180.4) rotate(-90)" class="a" text-anchor="middle">Herzfrequenz (bpm)</text>
<text x="1193" y="1606.5" class="a" text-anchor="middle">Zeit (hr:min)</text>
<text x="1193" y="1677.7" class="a" text-anchor="middle">(a) Kommandant</text>
<rect x="529.1" y="1836.3" width="156.8" height="29.5" fill="#59344c"/>
<text x="697.7" y="1863.1" class="l">Kommandant beim Aussteigen unterstützen</text>
<rect x="681.4" y="1877.7" width="50.3" height="29.5" fill="#59344c"/>
<text x="743.5" y="1904.5" class="l">Aussteigen und Eingewöhnung</text>
<rect x="727.3" y="1919.1" width="50.7" height="29.5" fill="#59344c"/>
<text x="789.8" y="1945.9" class="l">Fernsehkamera aufstellen</text>
<rect x="775.6" y="1960.5" width="49.7" height="29.5" fill="#59344c"/>
<text x="837.1" y="1987.3" class="l">S-Band-Antenne aufstellen</text>
<rect x="821.9" y="2001.8" width="209.9" height="29.5" fill="#59344c"/>
<text x="1043.6" y="2028.7" class="l">Sonnenwindkollektor aufstellen und Inspektion des Landemoduls</text>
<rect x="1026.9" y="2043.2" width="122.2" height="29.5" fill="#59344c"/>
<text x="1160.9" y="2070.1" class="l">Paket mit Experimenten ausladen</text>
<rect x="1145.2" y="2084.6" width="441.7" height="29.5" fill="#59344c"/>
<text x="1133.4" y="2111.5" class="l" text-anchor="end">Transportieren und Aufstellen der Experimente</text>
<rect x="1586.9" y="2126.0" width="125.7" height="29.5" fill="#59344c"/>
<text x="1575.1" y="2152.8" class="l" text-anchor="end">Rückweg</text>
<rect x="1712.6" y="2167.4" width="72.9" height="29.5" fill="#59344c"/>
<text x="1700.8" y="2194.2" class="l" text-anchor="end">Kernbohrer-Bodenprobe</text>
<rect x="1785.0" y="2208.8" width="50.8" height="29.5" fill="#59344c"/>
<text x="1773.2" y="2235.6" class="l" text-anchor="end">Einsteigen</text>
<rect x="1836.3" y="2250.2" width="67.5" height="29.5" fill="#59344c"/>
<text x="1824.5" y="2277.0" class="l" text-anchor="end">Kommandant beim Einsteigen unterstützen</text>
<rect x="484.0" y="2299.3" width="1421.6" height="8.3" fill="#dcddde"/>
<rect x="484.0" y="2417.4" width="1421.6" height="8.3" fill="#dcddde"/>
<rect x="484.0" y="2535.5" width="1421.6" height="8.3" fill="#dcddde"/>
<rect x="484.0" y="2653.5" width="1421.6" height="8.3" fill="#dcddde"/>
<rect x="484.0" y="2771.6" width="1421.6" height="8.3" fill="#dcddde"/>
<rect x="657.0" y="2299.3" width="8.3" height="594.5" fill="#dcddde"/>
<rect x="834.2" y="2299.3" width="8.3" height="594.5" fill="#dcddde"/>
<rect x="1011.4" y="2299.3" width="8.3" height="594.5" fill="#dcddde"/>
<rect x="1188.6" y="2299.3" width="8.3" height="594.5" fill="#dcddde"/>
<rect x="1365.7" y="2299.3" width="8.3" height="594.5" fill="#dcddde"/>
<rect x="1542.9" y="2299.3" width="8.3" height="594.5" fill="#dcddde"/>
<rect x="1720.1" y="2299.3" width="8.3" height="594.5" fill="#dcddde"/>
<rect x="1897.3" y="2299.3" width="8.3" height="594.5" fill="#dcddde"/>
<rect x="479.8" y="2299.3" width="8.3" height="598.6" fill="#000"/>
<rect x="479.8" y="2889.6" width="1425.8" height="8.3" fill="#000"/>
<rect x="484.0" y="2299.3" width="29.5" height="8.3" fill="#000"/>
<rect x="484.0" y="2417.4" width="29.5" height="8.3" fill="#000"/>
<rect x="484.0" y="2535.5" width="29.5" height="8.3" fill="#000"/>
<rect x="484.0" y="2653.5" width="29.5" height="8.3" fill="#000"/>
<rect x="484.0" y="2771.6" width="29.5" height="8.3" fill="#000"/>
<rect x="657.0" y="2864.3" width="8.3" height="29.5" fill="#000"/>
<rect x="834.2" y="2864.3" width="8.3" height="29.5" fill="#000"/>
<rect x="1011.4" y="2864.3" width="8.3" height="29.5" fill="#000"/>
<rect x="1188.6" y="2864.3" width="8.3" height="29.5" fill="#000"/>
<rect x="1365.7" y="2864.3" width="8.3" height="29.5" fill="#000"/>
<rect x="1542.9" y="2864.3" width="8.3" height="29.5" fill="#000"/>
<rect x="1720.1" y="2864.3" width="8.3" height="29.5" fill="#000"/>
<rect x="1897.3" y="2864.3" width="8.3" height="29.5" fill="#000"/>
<text transform="translate(466 2316.3) scale(1 1.045)" class="a" text-anchor="end">160</text>
<text transform="translate(466 2434.4) scale(1 1.045)" class="a" text-anchor="end">140</text>
<text transform="translate(466 2552.4) scale(1 1.045)" class="a" text-anchor="end">120</text>
<text transform="translate(466 2670.5) scale(1 1.045)" class="a" text-anchor="end">100</text>
<text transform="translate(466 2788.5) scale(1 1.045)" class="a" text-anchor="end">80</text>
<text transform="translate(466 2906.6) scale(1 1.045)" class="a" text-anchor="end">60</text>
<text transform="translate(484.2 2942.6) scale(1 1.045)" class="a" text-anchor="middle">115:00</text>
<text transform="translate(661.4 2942.6) scale(1 1.045)" class="a" text-anchor="middle">115:30</text>
<text transform="translate(838.6 2942.6) scale(1 1.045)" class="a" text-anchor="middle">116:00</text>
<text transform="translate(1015.7 2942.6) scale(1 1.045)" class="a" text-anchor="middle">116:30</text>
<text transform="translate(1192.9 2942.6) scale(1 1.045)" class="a" text-anchor="middle">117:00</text>
<text transform="translate(1370.1 2942.6) scale(1 1.045)" class="a" text-anchor="middle">117:30</text>
<text transform="translate(1547.3 2942.6) scale(1 1.045)" class="a" text-anchor="middle">118:00</text>
<text transform="translate(1724.5 2942.6) scale(1 1.045)" class="a" text-anchor="middle">118:30</text>
<text transform="translate(1901.6 2942.6) scale(1 1.045)" class="a" text-anchor="middle">119:00</text>
<path d="M612.1 2590.2 C612.4 2591.9 614.8 2606.9 615.3 2610.6 C615.7 2614.2 617.0 2629.3 617.4 2634.1 C617.7 2638.9 618.9 2661.8 619.2 2668.1 C619.5 2674.4 620.7 2703.8 621.0 2709.9 C621.3 2716.0 622.4 2737.1 622.6 2741.3 C622.8 2745.4 623.7 2757.6 623.9 2759.5 C624.1 2761.5 624.8 2764.8 624.9 2764.8 C625.1 2764.8 626.0 2761.9 626.3 2759.5 C626.5 2757.1 627.5 2741.5 627.8 2736.0 C628.1 2730.6 629.3 2701.4 629.7 2694.2 C630.0 2687.0 631.4 2655.9 631.7 2649.8 C632.1 2643.7 633.3 2624.5 633.6 2621.0 C633.9 2617.6 635.1 2609.8 635.4 2608.8 C635.7 2607.7 636.7 2607.2 637.0 2608.0 C637.2 2608.8 638.0 2615.2 638.3 2618.4 C638.5 2621.7 639.8 2642.2 640.1 2647.2 C640.4 2652.2 641.8 2674.2 642.2 2678.5 C642.6 2682.9 644.2 2697.2 644.5 2699.4 C644.9 2701.7 646.2 2705.4 646.6 2706.0 C647.0 2706.6 648.7 2706.9 649.3 2706.8 C649.8 2706.6 652.4 2704.9 653.2 2704.1 C653.9 2703.4 657.5 2699.2 658.4 2698.1 C659.3 2697.1 662.8 2692.6 663.6 2691.6 C664.5 2690.6 668.4 2686.8 668.9 2686.4" fill="none" stroke="#42506e" stroke-width="5.2" stroke-linejoin="round" stroke-linecap="round"/>
<path d="M775.5 2659.7 C775.5 2655.6 775.4 2619.0 775.5 2610.6 C775.5 2602.1 775.9 2565.9 776.0 2558.3 C776.1 2550.7 776.6 2524.1 776.8 2519.1 C777.0 2514.1 777.8 2500.4 778.1 2498.2 C778.4 2496.1 779.8 2493.8 780.2 2493.5 C780.5 2493.3 782.1 2494.5 782.5 2495.1 C783.0 2495.7 785.2 2499.5 785.7 2500.8 C786.1 2502.2 788.0 2509.1 788.3 2511.3 C788.6 2513.5 788.9 2523.5 789.1 2527.0 C789.2 2530.4 790.0 2548.3 790.4 2553.1 C790.7 2557.9 792.5 2579.7 793.0 2584.5 C793.4 2589.2 795.1 2606.5 795.6 2610.6 C796.1 2614.7 798.4 2631.0 799.0 2634.1 C799.5 2637.3 801.6 2646.4 802.1 2648.5 C802.6 2650.5 804.9 2657.1 805.3 2658.9 C805.6 2660.8 806.2 2668.2 806.3 2670.7 C806.4 2673.2 806.7 2686.5 806.8 2689.0 C807.0 2691.5 807.6 2699.6 807.9 2700.7 C808.1 2701.9 809.6 2702.9 810.0 2702.8 C810.4 2702.7 812.0 2700.5 812.6 2699.4 C813.1 2698.4 815.8 2692.0 816.5 2690.3 C817.2 2688.6 819.8 2680.6 820.4 2678.5 C821.1 2676.5 823.8 2667.2 824.3 2665.5 C824.8 2663.7 826.2 2660.0 826.4 2657.6 C826.7 2655.2 827.0 2640.6 827.2 2636.7 C827.4 2632.8 828.5 2614.1 828.8 2610.6 C829.1 2607.1 830.5 2596.9 830.9 2594.9 C831.3 2592.9 832.9 2588.3 833.5 2587.1 C834.0 2585.9 836.9 2582.0 837.4 2580.5 C837.9 2579.1 839.6 2572.2 840.0 2570.1 C840.4 2568.0 841.8 2558.4 842.1 2555.7 C842.4 2553.0 843.2 2541.6 843.4 2537.4 C843.6 2533.3 844.1 2510.5 844.2 2506.1 C844.3 2501.6 844.6 2485.8 844.7 2483.8 C844.9 2481.9 845.8 2482.1 846.0 2483.1 C846.3 2484.0 847.5 2492.8 847.9 2495.6 C848.2 2498.4 850.1 2513.8 850.5 2516.5 C850.8 2519.2 852.1 2527.8 852.3 2528.3 C852.5 2528.7 853.0 2524.7 853.1 2521.7 C853.2 2518.8 853.3 2497.8 853.3 2493.0 C853.4 2488.2 853.7 2467.7 853.9 2464.2 C854.0 2460.8 854.6 2452.6 854.9 2451.2 C855.2 2449.8 856.8 2447.7 857.5 2447.3 C858.2 2446.8 862.6 2446.0 863.5 2446.0 C864.5 2446.0 868.2 2446.8 868.8 2447.3 C869.4 2447.7 870.6 2448.9 870.9 2451.2 C871.1 2453.5 871.9 2469.7 872.2 2474.7 C872.4 2479.7 873.2 2504.8 873.5 2511.3 C873.7 2517.8 874.6 2547.2 874.8 2553.1 C875.0 2559.0 875.6 2579.0 875.8 2581.8 C876.0 2584.7 876.6 2587.8 876.9 2587.6 C877.1 2587.4 878.1 2582.1 878.4 2579.2 C878.7 2576.4 880.0 2559.2 880.5 2553.1 C881.0 2547.0 883.8 2513.9 884.4 2506.1 C885.1 2498.2 887.7 2467.3 888.4 2459.0 C889.0 2450.7 891.7 2413.9 892.3 2406.8 C892.8 2399.6 894.6 2375.9 894.9 2372.8 C895.2 2369.6 896.0 2368.2 896.2 2368.9 C896.4 2369.5 897.2 2375.7 897.5 2380.6 C897.8 2385.5 899.0 2419.0 899.3 2427.7 C899.7 2436.4 901.1 2475.4 901.4 2485.2 C901.8 2495.0 903.0 2536.3 903.3 2545.3 C903.5 2554.2 904.4 2586.5 904.6 2592.3 C904.8 2598.1 905.4 2613.3 905.6 2615.3 C905.8 2617.3 906.8 2616.4 907.2 2615.8 C907.5 2615.2 909.3 2609.9 909.8 2608.0 C910.3 2606.0 912.6 2594.9 913.2 2592.3 C913.8 2589.7 916.1 2578.4 916.6 2576.6 C917.0 2574.8 918.2 2571.1 918.4 2570.9 C918.7 2570.6 919.5 2571.8 919.7 2574.0 C919.9 2576.2 920.8 2592.5 921.0 2597.5 C921.3 2602.5 922.6 2629.3 922.9 2634.1 C923.1 2638.9 924.0 2652.4 924.4 2655.0 C924.8 2657.6 927.0 2663.7 927.6 2665.5 C928.1 2667.2 930.3 2674.4 930.7 2675.9 C931.1 2677.4 932.1 2681.4 932.3 2683.8 C932.4 2686.2 932.7 2701.0 932.8 2704.7 C932.9 2708.4 933.4 2724.4 933.6 2728.2 C933.7 2732.0 934.7 2748.2 934.9 2750.4 C935.1 2752.6 935.7 2754.2 935.9 2754.3 C936.1 2754.4 937.2 2753.0 937.5 2751.7 C937.8 2750.4 939.0 2742.1 939.3 2738.6 C939.6 2735.2 941.1 2715.1 941.4 2709.9 C941.7 2704.7 942.9 2682.5 943.2 2675.9 C943.6 2669.4 945.0 2638.5 945.3 2631.5 C945.7 2624.5 946.9 2598.2 947.2 2592.3 C947.5 2586.4 948.8 2565.1 949.0 2560.9 C949.2 2556.8 949.9 2544.6 950.0 2542.6 C950.2 2540.7 950.7 2538.0 951.1 2537.4 C951.5 2536.8 954.0 2535.6 955.0 2535.3 C956.0 2535.1 961.5 2534.3 962.8 2534.3 C964.1 2534.3 969.7 2535.1 970.7 2535.3 C971.7 2535.5 974.2 2536.8 974.6 2536.9 C975.0 2537.0 975.0 2535.7 975.3 2536.1 C975.5 2536.5 977.0 2539.3 977.4 2541.3 C977.7 2543.4 978.8 2556.9 979.2 2560.9 C979.6 2565.0 981.4 2584.7 981.8 2589.7 C982.2 2594.7 984.0 2615.8 984.4 2621.0 C984.9 2626.3 986.6 2648.0 987.0 2652.4 C987.4 2656.8 988.8 2671.4 989.1 2673.3 C989.5 2675.2 990.5 2674.9 991.0 2675.1 C991.4 2675.4 994.3 2675.7 994.9 2675.9 C995.5 2676.1 997.6 2676.8 998.0 2677.2 C998.4 2677.7 999.6 2679.7 1000.1 2681.1 C1000.6 2682.6 1003.4 2692.0 1004.0 2694.2 C1004.7 2696.4 1007.4 2705.5 1007.9 2707.3 C1008.5 2709.0 1010.6 2714.2 1011.1 2715.1 C1011.5 2716.0 1012.8 2717.6 1013.2 2717.7 C1013.6 2717.8 1015.2 2717.0 1015.8 2716.4 C1016.3 2715.9 1019.1 2712.3 1019.7 2711.2 C1020.4 2710.1 1023.1 2704.7 1023.6 2703.4 C1024.2 2702.1 1025.9 2697.8 1026.2 2695.5 C1026.6 2693.2 1027.3 2679.5 1027.5 2675.9 C1027.8 2672.3 1029.0 2655.4 1029.4 2652.4 C1029.7 2649.4 1031.1 2640.7 1031.5 2639.3 C1031.8 2638.0 1033.0 2635.7 1033.3 2635.9 C1033.6 2636.2 1034.6 2639.3 1034.9 2641.9 C1035.1 2644.6 1036.4 2663.3 1036.7 2668.1 C1037.0 2672.9 1038.5 2694.9 1038.8 2699.4 C1039.1 2704.0 1040.3 2719.9 1040.6 2723.0 C1040.9 2726.0 1042.4 2734.6 1042.7 2736.0 C1043.0 2737.5 1044.2 2740.2 1044.5 2740.5 C1044.8 2740.7 1046.1 2739.9 1046.4 2738.6 C1046.6 2737.4 1047.6 2728.8 1047.9 2725.6 C1048.2 2722.3 1049.4 2703.6 1049.8 2699.4 C1050.1 2695.3 1051.5 2678.4 1051.8 2675.9 C1052.2 2673.4 1053.3 2669.9 1053.7 2669.4 C1054.0 2668.8 1055.3 2669.0 1055.8 2669.4 C1056.2 2669.8 1058.3 2673.4 1058.9 2674.6 C1059.5 2675.8 1062.2 2682.0 1062.8 2683.8 C1063.5 2685.5 1066.1 2693.6 1066.7 2695.5 C1067.4 2697.5 1070.1 2705.6 1070.7 2707.3 C1071.2 2708.9 1072.9 2714.3 1073.3 2715.1 C1073.6 2715.9 1074.9 2718.1 1075.1 2717.2 C1075.3 2716.3 1076.0 2707.2 1076.1 2704.7 C1076.3 2702.1 1076.5 2688.2 1076.7 2686.4 C1076.8 2684.5 1077.7 2682.5 1078.0 2682.5 C1078.2 2682.5 1079.2 2684.7 1079.5 2686.4 C1079.9 2688.0 1081.2 2699.2 1081.6 2702.1 C1082.0 2704.9 1083.9 2718.3 1084.3 2720.3 C1084.6 2722.4 1086.0 2726.4 1086.3 2726.9 C1086.7 2727.3 1088.0 2726.3 1088.4 2725.6 C1088.9 2724.8 1091.0 2719.5 1091.6 2717.7 C1092.2 2716.0 1094.8 2707.1 1095.5 2704.7 C1096.1 2702.3 1098.8 2691.8 1099.4 2689.0 C1100.0 2686.2 1102.2 2674.0 1102.5 2670.7 C1102.9 2667.4 1103.6 2651.9 1103.9 2649.8 C1104.1 2647.7 1105.5 2645.8 1105.9 2645.3 C1106.3 2644.9 1108.1 2644.0 1108.6 2644.0 C1109.0 2644.0 1111.3 2644.4 1111.7 2645.3 C1112.1 2646.3 1113.4 2652.0 1113.8 2655.0 C1114.2 2658.0 1116.0 2676.1 1116.4 2681.1 C1116.8 2686.2 1118.6 2710.1 1119.0 2715.1 C1119.4 2720.1 1120.8 2738.5 1121.1 2741.3 C1121.4 2744.0 1122.6 2747.9 1122.9 2748.3 C1123.2 2748.7 1124.4 2747.7 1124.8 2746.5 C1125.1 2745.2 1126.5 2737.3 1126.8 2733.4 C1127.2 2729.5 1129.0 2706.8 1129.5 2699.4 C1129.9 2692.0 1131.6 2654.1 1132.1 2644.6 C1132.5 2635.0 1134.3 2594.3 1134.7 2584.5 C1135.1 2574.7 1136.9 2535.7 1137.3 2527.0 C1137.7 2518.3 1139.5 2486.7 1139.9 2479.9 C1140.3 2473.2 1141.7 2450.1 1142.0 2446.0 C1142.3 2441.8 1143.5 2431.7 1143.8 2430.3 C1144.1 2428.8 1145.4 2428.0 1145.7 2428.4 C1145.9 2428.9 1147.0 2433.0 1147.2 2435.5 C1147.5 2438.0 1148.3 2454.9 1148.5 2459.0 C1148.8 2463.2 1150.0 2481.8 1150.4 2485.2 C1150.7 2488.5 1152.1 2497.8 1152.5 2499.5 C1152.8 2501.3 1154.3 2505.2 1154.8 2506.1 C1155.3 2506.9 1157.7 2509.1 1158.2 2510.0 C1158.7 2510.9 1160.4 2514.7 1160.8 2516.5 C1161.2 2518.4 1162.4 2527.6 1162.6 2532.2 C1162.9 2536.8 1163.8 2565.1 1164.0 2571.4 C1164.1 2577.7 1164.5 2604.8 1164.7 2608.0 C1164.9 2611.2 1166.0 2610.7 1166.3 2610.1 C1166.6 2609.4 1167.6 2603.4 1167.9 2600.1 C1168.2 2596.9 1169.6 2576.1 1170.0 2571.4 C1170.3 2566.7 1171.5 2546.6 1171.8 2544.0 C1172.1 2541.3 1172.9 2539.2 1173.1 2539.5 C1173.3 2539.8 1174.2 2544.1 1174.4 2547.9 C1174.6 2551.6 1175.3 2577.5 1175.5 2584.5 C1175.6 2591.4 1176.3 2627.3 1176.5 2631.5 C1176.7 2635.7 1177.4 2635.3 1177.5 2634.6 C1177.7 2634.0 1178.4 2630.0 1178.6 2623.7 C1178.8 2617.3 1179.5 2568.1 1179.6 2558.3 C1179.8 2548.5 1180.3 2513.4 1180.4 2506.1 C1180.6 2498.8 1181.2 2474.2 1181.5 2470.8 C1181.7 2467.4 1182.7 2465.6 1183.0 2465.6 C1183.4 2465.6 1185.2 2469.1 1185.6 2470.8 C1186.1 2472.4 1187.8 2481.8 1188.3 2485.2 C1188.7 2488.5 1190.4 2505.8 1190.9 2511.3 C1191.3 2516.7 1193.0 2543.7 1193.5 2550.5 C1193.9 2557.2 1195.7 2585.1 1196.1 2592.3 C1196.5 2599.5 1198.3 2629.8 1198.7 2636.7 C1199.1 2643.7 1200.3 2669.6 1200.5 2675.9 C1200.8 2682.2 1201.9 2708.6 1202.1 2712.5 C1202.3 2716.4 1203.0 2723.1 1203.2 2722.4 C1203.3 2721.8 1203.8 2707.7 1203.9 2704.7 C1204.1 2701.7 1204.9 2688.6 1205.2 2686.4 C1205.6 2684.2 1207.4 2678.8 1207.9 2678.0 C1208.3 2677.2 1210.0 2677.0 1210.5 2677.2 C1210.9 2677.5 1212.6 2679.9 1213.1 2681.1 C1213.6 2682.3 1216.0 2689.6 1216.5 2691.6 C1217.0 2693.6 1218.7 2702.3 1219.1 2704.7 C1219.5 2707.1 1220.9 2717.3 1221.2 2720.3 C1221.5 2723.4 1222.7 2738.3 1223.0 2741.3 C1223.3 2744.2 1224.5 2754.4 1224.8 2755.6 C1225.1 2756.9 1226.2 2756.8 1226.7 2756.4 C1227.1 2756.0 1229.5 2751.9 1230.1 2750.4 C1230.7 2748.9 1233.3 2740.7 1234.0 2738.6 C1234.6 2736.6 1237.3 2727.4 1237.9 2725.6 C1238.5 2723.7 1240.8 2717.5 1241.3 2716.4 C1241.8 2715.4 1243.2 2713.2 1243.7 2713.0 C1244.1 2712.8 1246.6 2713.9 1247.1 2713.8 C1247.6 2713.8 1249.3 2713.0 1249.7 2712.5 C1250.1 2712.0 1251.4 2707.9 1251.8 2707.3 C1252.1 2706.7 1253.3 2705.1 1253.6 2705.2 C1253.9 2705.2 1255.1 2707.0 1255.4 2707.8 C1255.7 2708.6 1257.1 2713.6 1257.5 2715.1 C1257.9 2716.6 1259.7 2723.9 1260.1 2725.6 C1260.6 2727.2 1262.3 2733.6 1262.7 2734.7 C1263.2 2735.9 1264.9 2739.0 1265.3 2739.4 C1265.8 2739.8 1267.4 2739.6 1268.0 2739.4 C1268.5 2739.2 1271.2 2737.2 1271.9 2736.8 C1272.5 2736.4 1275.3 2734.8 1275.8 2734.7 C1276.3 2734.7 1278.1 2735.0 1278.4 2736.0 C1278.7 2737.0 1279.3 2744.7 1279.5 2746.5 C1279.6 2748.2 1280.2 2756.0 1280.5 2756.9 C1280.8 2757.9 1282.4 2758.2 1282.9 2758.2 C1283.3 2758.2 1285.7 2757.3 1286.3 2756.9 C1286.8 2756.6 1289.2 2755.1 1289.7 2753.8 C1290.1 2752.5 1291.1 2743.6 1291.5 2741.3 C1291.9 2738.9 1293.6 2727.7 1294.1 2725.6 C1294.6 2723.4 1297.0 2716.3 1297.5 2715.1 C1298.0 2713.9 1299.7 2711.3 1300.1 2711.2 C1300.5 2711.1 1301.6 2712.2 1301.9 2713.8 C1302.2 2715.4 1303.5 2727.9 1303.8 2730.8 C1304.0 2733.7 1305.0 2747.3 1305.3 2749.1 C1305.6 2750.8 1306.9 2752.1 1307.2 2751.7 C1307.5 2751.3 1308.6 2745.8 1309.0 2743.9 C1309.4 2741.9 1311.8 2731.0 1312.4 2728.2 C1313.0 2725.4 1315.7 2712.8 1316.3 2709.9 C1317.0 2707.0 1319.7 2695.1 1320.2 2692.9 C1320.8 2690.7 1322.5 2684.0 1322.8 2683.2 C1323.2 2682.4 1324.3 2682.5 1324.7 2683.2 C1325.0 2683.9 1326.3 2689.4 1326.8 2691.6 C1327.2 2693.8 1329.4 2706.8 1329.9 2709.9 C1330.4 2712.9 1332.7 2725.2 1333.3 2728.2 C1333.8 2731.1 1336.0 2743.0 1336.4 2745.2 C1336.9 2747.3 1338.2 2752.7 1338.5 2754.3 C1338.8 2756.0 1339.6 2763.9 1340.0 2764.8 C1340.4 2765.6 1342.4 2765.3 1343.1 2764.8 C1343.8 2764.2 1347.5 2759.4 1348.3 2758.2 C1349.2 2757.1 1352.9 2752.1 1353.6 2751.2 C1354.2 2750.2 1355.8 2747.4 1356.2 2747.0 C1356.6 2746.6 1357.7 2746.2 1358.0 2746.5 C1358.3 2746.8 1359.2 2748.9 1359.6 2750.4 C1360.0 2751.9 1362.1 2762.0 1362.7 2764.8 C1363.3 2767.5 1366.0 2780.2 1366.6 2783.1 C1367.2 2785.9 1369.5 2796.8 1370.0 2798.7 C1370.6 2800.7 1372.5 2805.2 1373.2 2806.6 C1373.9 2808.0 1377.5 2814.3 1378.4 2815.7 C1379.3 2817.1 1382.9 2822.7 1383.6 2823.6 C1384.3 2824.5 1386.6 2826.6 1387.0 2826.7 C1387.5 2826.8 1388.6 2826.3 1388.9 2824.9 C1389.1 2823.4 1389.9 2812.9 1390.2 2809.2 C1390.4 2805.5 1391.7 2784.6 1392.0 2780.4 C1392.2 2776.3 1393.1 2761.5 1393.3 2759.5 C1393.5 2757.6 1394.1 2757.5 1394.6 2756.9 C1395.1 2756.3 1398.5 2753.2 1399.3 2752.5 C1400.1 2751.8 1403.9 2749.0 1404.5 2748.6 C1405.2 2748.2 1406.8 2747.1 1407.1 2747.8 C1407.4 2748.5 1408.0 2754.4 1408.2 2756.9 C1408.4 2759.4 1409.5 2774.9 1409.8 2777.8 C1410.0 2780.8 1410.6 2790.5 1411.1 2792.2 C1411.5 2794.0 1414.0 2797.0 1415.0 2798.7 C1416.0 2800.5 1421.5 2810.7 1422.8 2813.1 C1424.1 2815.5 1429.5 2825.3 1430.7 2827.5 C1431.9 2829.7 1436.4 2837.9 1437.2 2839.2 C1438.0 2840.6 1439.9 2844.0 1440.3 2843.7 C1440.7 2843.4 1441.6 2838.2 1441.9 2835.3 C1442.2 2832.5 1443.4 2814.9 1443.7 2809.2 C1444.1 2803.5 1445.9 2773.7 1446.3 2767.4 C1446.8 2761.1 1448.5 2738.0 1449.0 2733.4 C1449.4 2728.8 1451.2 2714.9 1451.6 2712.5 C1452.0 2710.2 1453.3 2705.7 1453.7 2705.2 C1454.0 2704.7 1455.2 2705.7 1455.5 2706.8 C1455.8 2707.8 1457.1 2715.1 1457.6 2717.7 C1458.0 2720.4 1460.2 2735.2 1460.7 2738.6 C1461.2 2742.1 1463.3 2756.7 1463.9 2759.5 C1464.4 2762.4 1466.6 2770.5 1467.2 2772.6 C1467.9 2774.7 1470.6 2782.7 1471.2 2784.4 C1471.8 2786.0 1474.1 2791.4 1474.6 2792.2 C1475.1 2793.0 1476.8 2794.3 1477.2 2793.5 C1477.5 2792.8 1478.7 2786.1 1479.0 2783.1 C1479.3 2780.0 1480.8 2760.6 1481.1 2756.9 C1481.4 2753.2 1482.6 2740.6 1482.9 2738.6 C1483.2 2736.7 1484.5 2733.9 1484.8 2733.9 C1485.0 2733.9 1486.0 2736.9 1486.3 2738.6 C1486.7 2740.3 1488.2 2751.1 1488.7 2754.3 C1489.2 2757.6 1491.6 2774.7 1492.1 2777.8 C1492.6 2781.0 1494.3 2790.9 1494.7 2792.2 C1495.1 2793.5 1496.3 2794.5 1496.5 2793.5 C1496.8 2792.5 1497.6 2782.8 1497.8 2780.4 C1498.0 2778.1 1498.6 2766.3 1498.9 2764.8 C1499.1 2763.2 1500.1 2761.8 1500.4 2762.2 C1500.7 2762.5 1502.2 2767.3 1502.5 2768.7 C1502.9 2770.1 1504.3 2778.2 1504.6 2779.1 C1504.9 2780.1 1506.2 2781.6 1506.4 2780.4 C1506.7 2779.3 1507.5 2767.6 1507.8 2764.8 C1508.0 2761.9 1508.8 2748.4 1509.1 2746.5 C1509.3 2744.5 1510.3 2741.5 1510.6 2741.3 C1511.0 2741.0 1512.5 2742.9 1513.0 2743.3 C1513.5 2743.8 1516.2 2746.2 1516.9 2746.5 C1517.6 2746.8 1521.0 2746.9 1521.6 2747.0 C1522.2 2747.1 1523.3 2747.0 1523.7 2747.8 C1524.1 2748.6 1525.6 2755.1 1526.0 2756.9 C1526.5 2758.8 1528.3 2768.5 1528.7 2770.0 C1529.1 2771.5 1530.5 2775.7 1530.7 2775.2 C1531.0 2774.8 1531.9 2767.8 1532.1 2764.8 C1532.3 2761.7 1532.9 2742.3 1533.1 2738.6 C1533.3 2734.9 1534.2 2722.1 1534.4 2720.3 C1534.6 2718.6 1535.6 2717.3 1536.0 2717.2 C1536.3 2717.1 1538.1 2718.5 1538.6 2719.0 C1539.1 2719.6 1541.3 2723.3 1541.7 2724.3 C1542.2 2725.2 1543.6 2728.1 1543.8 2730.8 C1544.1 2733.5 1544.5 2751.7 1544.6 2756.9 C1544.7 2762.2 1545.0 2788.5 1545.1 2793.5 C1545.2 2798.5 1545.7 2814.6 1545.9 2817.0 C1546.1 2819.4 1547.5 2820.7 1547.7 2822.3 C1548.0 2823.8 1548.6 2832.7 1548.8 2835.3 C1549.0 2837.9 1549.9 2851.4 1550.1 2853.6 C1550.3 2855.8 1551.1 2861.1 1551.4 2861.5 C1551.7 2861.8 1553.0 2859.2 1553.5 2857.5 C1554.0 2855.9 1556.8 2844.6 1557.4 2841.9 C1558.1 2839.1 1560.7 2827.3 1561.3 2824.9 C1561.9 2822.5 1564.0 2814.2 1564.5 2813.1 C1564.9 2812.0 1566.2 2811.6 1566.6 2811.8 C1566.9 2812.0 1568.7 2814.9 1569.2 2815.7 C1569.6 2816.6 1571.5 2821.3 1571.8 2822.3 C1572.1 2823.2 1572.7 2825.5 1572.8 2827.5 C1573.0 2829.4 1573.2 2842.3 1573.3 2845.8 C1573.5 2849.3 1574.0 2866.8 1574.1 2869.3 C1574.3 2871.8 1574.9 2876.1 1575.2 2875.8 C1575.4 2875.6 1576.6 2869.6 1577.0 2866.7 C1577.4 2863.7 1579.2 2845.3 1579.6 2840.6 C1580.1 2835.8 1581.8 2814.0 1582.2 2809.2 C1582.7 2804.4 1584.5 2787.0 1584.8 2783.1 C1585.2 2779.1 1586.6 2764.2 1586.9 2762.2 C1587.2 2760.2 1588.2 2758.8 1588.5 2759.0 C1588.8 2759.2 1590.1 2763.2 1590.6 2764.8 C1591.0 2766.3 1593.6 2775.4 1594.0 2777.8 C1594.4 2780.2 1595.5 2790.0 1595.8 2793.5 C1596.1 2797.0 1597.6 2815.7 1597.9 2819.6 C1598.3 2823.6 1599.7 2837.8 1600.0 2840.6 C1600.3 2843.3 1601.1 2851.9 1601.3 2852.3 C1601.5 2852.7 1602.2 2850.7 1602.4 2845.8 C1602.5 2840.9 1603.0 2806.6 1603.1 2793.5 C1603.3 2780.4 1603.8 2708.6 1603.9 2689.0 C1604.0 2669.4 1604.4 2577.9 1604.4 2558.3 C1604.5 2538.7 1604.7 2466.0 1604.7 2453.8 C1604.7 2441.6 1604.9 2415.6 1605.0 2412.0 C1605.1 2408.4 1605.6 2408.9 1605.7 2410.7 C1605.9 2412.4 1606.4 2426.0 1606.5 2432.9 C1606.7 2439.7 1607.4 2482.5 1607.6 2493.0 C1607.8 2503.4 1608.6 2546.3 1608.9 2558.3 C1609.1 2570.3 1610.2 2624.7 1610.5 2636.7 C1610.7 2648.7 1612.0 2691.6 1612.3 2702.1 C1612.6 2712.5 1613.8 2753.9 1614.1 2762.2 C1614.4 2770.4 1615.4 2796.1 1615.7 2801.4 C1615.9 2806.6 1616.8 2822.0 1617.0 2824.9 C1617.2 2827.7 1618.1 2834.9 1618.3 2835.3 C1618.5 2835.8 1619.6 2832.5 1619.9 2830.1 C1620.1 2827.7 1621.1 2812.9 1621.4 2806.6 C1621.7 2800.3 1622.9 2764.1 1623.3 2754.3 C1623.6 2744.5 1625.0 2699.9 1625.3 2689.0 C1625.7 2678.1 1626.9 2632.4 1627.2 2623.7 C1627.5 2614.9 1628.5 2589.2 1628.7 2584.5 C1629.0 2579.7 1630.1 2567.9 1630.3 2566.2 C1630.6 2564.4 1631.4 2562.9 1631.6 2563.6 C1631.8 2564.2 1632.8 2570.1 1632.9 2574.0 C1633.1 2577.9 1633.6 2603.2 1633.7 2610.6 C1633.8 2618.0 1634.0 2654.8 1634.0 2662.9 C1634.0 2670.9 1633.9 2703.5 1634.0 2707.3 C1634.1 2711.1 1634.8 2708.9 1635.0 2708.6 C1635.3 2708.3 1636.7 2704.8 1637.1 2703.4 C1637.5 2701.9 1639.3 2693.1 1639.7 2691.6 C1640.1 2690.1 1641.5 2685.7 1641.8 2685.1 C1642.1 2684.5 1643.2 2684.0 1643.4 2684.5 C1643.6 2685.1 1644.3 2689.9 1644.4 2691.6 C1644.6 2693.3 1645.2 2702.7 1645.5 2704.7 C1645.7 2706.6 1647.1 2713.6 1647.6 2715.1 C1648.1 2716.6 1650.9 2721.8 1651.5 2723.0 C1652.1 2724.2 1654.3 2726.9 1654.6 2729.5 C1654.9 2732.1 1655.1 2749.4 1655.1 2754.3 C1655.2 2759.2 1655.5 2783.3 1655.7 2788.3 C1655.8 2793.3 1656.5 2811.3 1656.7 2814.4 C1656.9 2817.6 1658.2 2825.3 1658.5 2826.2 C1658.9 2827.1 1660.2 2825.6 1660.6 2824.9 C1661.0 2824.1 1662.8 2818.8 1663.2 2817.0 C1663.7 2815.3 1665.4 2806.6 1665.9 2804.0 C1666.3 2801.4 1668.1 2788.3 1668.5 2785.7 C1668.8 2783.1 1669.6 2776.3 1669.8 2772.6 C1670.0 2768.9 1670.8 2748.2 1671.1 2741.3 C1671.3 2734.3 1672.6 2697.7 1672.9 2689.0 C1673.2 2680.3 1674.2 2644.3 1674.5 2636.7 C1674.7 2629.1 1675.6 2601.9 1675.8 2597.5 C1676.0 2593.2 1676.5 2586.9 1676.8 2584.5 C1677.2 2582.1 1679.7 2571.4 1680.2 2568.8 C1680.8 2566.2 1683.1 2555.4 1683.6 2553.1 C1684.1 2550.8 1685.9 2542.5 1686.2 2541.3 C1686.6 2540.1 1687.5 2538.4 1687.8 2538.7 C1688.1 2539.1 1689.0 2543.2 1689.4 2545.3 C1689.7 2547.3 1691.4 2559.8 1692.0 2563.6 C1692.5 2567.3 1695.2 2585.0 1695.9 2589.7 C1696.6 2594.4 1699.5 2615.9 1700.1 2619.7 C1700.7 2623.5 1702.7 2633.2 1703.2 2635.4 C1703.7 2637.6 1705.8 2644.5 1706.3 2645.9 C1706.9 2647.3 1709.0 2651.5 1709.5 2652.4 C1710.0 2653.3 1711.8 2654.6 1712.1 2656.3 C1712.4 2658.1 1712.7 2669.7 1712.9 2673.3 C1713.0 2676.9 1713.9 2695.3 1714.2 2699.4 C1714.4 2703.6 1715.5 2720.2 1715.7 2723.0 C1716.0 2725.7 1717.3 2732.2 1717.6 2732.9 C1717.9 2733.5 1719.1 2732.1 1719.4 2730.8 C1719.7 2729.5 1721.1 2721.2 1721.5 2717.7 C1721.9 2714.2 1723.7 2693.8 1724.1 2689.0 C1724.5 2684.2 1726.1 2664.2 1726.5 2660.2 C1726.8 2656.3 1727.8 2643.7 1728.0 2641.9 C1728.3 2640.2 1729.1 2638.9 1729.3 2639.3 C1729.6 2639.8 1730.4 2645.0 1730.6 2647.2 C1730.9 2649.4 1731.6 2663.1 1732.0 2665.5 C1732.3 2667.9 1734.5 2674.2 1735.1 2675.9 C1735.7 2677.7 1738.5 2685.2 1739.0 2686.4 C1739.6 2687.6 1741.2 2690.4 1741.6 2690.3 C1742.0 2690.2 1743.3 2686.9 1743.7 2685.1 C1744.1 2683.2 1745.6 2672.1 1746.1 2668.1 C1746.5 2664.1 1748.3 2642.6 1748.7 2636.7 C1749.1 2630.8 1750.5 2604.1 1750.8 2597.5 C1751.0 2591.0 1751.7 2562.7 1751.8 2558.3 C1752.0 2554.0 1752.4 2547.1 1752.6 2545.3 C1752.8 2543.4 1754.3 2537.7 1754.7 2536.1 C1755.1 2534.5 1756.9 2527.7 1757.3 2526.4 C1757.7 2525.1 1759.5 2520.8 1759.9 2520.4 C1760.3 2520.1 1761.5 2520.8 1761.7 2522.3 C1762.0 2523.7 1763.0 2533.3 1763.3 2537.4 C1763.6 2541.5 1765.2 2564.2 1765.7 2571.4 C1766.1 2578.6 1767.8 2613.9 1768.3 2623.7 C1768.7 2633.5 1770.5 2679.4 1770.9 2689.0 C1771.3 2698.6 1772.7 2732.1 1773.0 2738.6 C1773.3 2745.2 1774.3 2763.6 1774.5 2767.4 C1774.8 2771.1 1775.3 2782.2 1775.6 2783.6 C1775.9 2785.0 1777.7 2784.2 1778.2 2784.1 C1778.8 2784.0 1781.4 2782.5 1782.1 2782.0 C1782.8 2781.5 1786.2 2778.5 1786.8 2777.8 C1787.5 2777.2 1789.6 2775.4 1790.0 2773.9 C1790.3 2772.4 1790.6 2764.4 1790.7 2759.5 C1790.9 2754.6 1791.6 2722.7 1791.8 2715.1 C1792.0 2707.5 1792.9 2673.6 1793.1 2668.1 C1793.3 2662.5 1794.0 2650.2 1794.1 2648.5 C1794.3 2646.8 1795.1 2646.9 1795.5 2647.7 C1795.8 2648.5 1797.3 2655.1 1797.8 2657.6 C1798.3 2660.2 1801.1 2674.6 1801.7 2678.5 C1802.4 2682.5 1805.1 2700.3 1805.6 2704.7 C1806.2 2709.0 1808.0 2725.6 1808.3 2730.8 C1808.5 2736.0 1808.9 2761.7 1809.0 2767.4 C1809.2 2773.0 1809.7 2795.5 1809.8 2798.7 C1810.0 2802.0 1810.7 2805.8 1810.9 2806.1 C1811.1 2806.3 1812.1 2803.5 1812.4 2801.4 C1812.8 2799.2 1814.4 2784.8 1814.8 2780.4 C1815.2 2776.1 1817.0 2754.1 1817.4 2749.1 C1817.8 2744.1 1819.6 2724.0 1820.0 2720.3 C1820.4 2716.6 1821.8 2706.2 1822.1 2704.7 C1822.4 2703.1 1823.2 2701.4 1823.4 2702.1 C1823.6 2702.7 1824.5 2709.2 1824.7 2712.5 C1824.9 2715.8 1825.8 2735.6 1826.0 2741.3 C1826.3 2746.9 1827.4 2775.9 1827.6 2780.4 C1827.8 2785.0 1828.7 2795.3 1828.9 2796.1 C1829.1 2797.0 1830.2 2793.3 1830.5 2790.9 C1830.8 2788.5 1832.0 2772.0 1832.3 2767.4 C1832.6 2762.8 1834.1 2739.0 1834.4 2736.0 C1834.7 2733.1 1835.7 2731.7 1836.0 2732.1 C1836.2 2732.5 1837.2 2738.9 1837.5 2741.3 C1837.8 2743.6 1839.3 2759.1 1839.6 2760.9 C1839.9 2762.6 1841.1 2762.9 1841.4 2762.2 C1841.8 2761.4 1843.2 2755.2 1843.5 2751.7 C1843.9 2748.2 1845.3 2726.7 1845.6 2720.3 C1846.0 2714.0 1847.2 2684.0 1847.5 2675.9 C1847.7 2667.9 1848.8 2631.7 1849.0 2623.7 C1849.3 2615.6 1850.4 2584.2 1850.6 2579.2 C1850.8 2574.3 1851.7 2565.4 1851.9 2564.1 C1852.1 2562.8 1853.2 2561.9 1853.5 2563.6 C1853.8 2565.2 1854.9 2579.4 1855.3 2584.5 C1855.7 2589.5 1857.5 2616.5 1857.9 2623.7 C1858.3 2630.8 1860.1 2663.1 1860.5 2670.7 C1861.0 2678.3 1862.8 2709.5 1863.1 2715.1 C1863.5 2720.8 1864.7 2736.7 1865.0 2738.6 C1865.2 2740.6 1866.2 2740.6 1866.5 2738.6 C1866.8 2736.7 1868.0 2721.4 1868.4 2715.1 C1868.7 2708.8 1870.5 2671.6 1871.0 2662.9 C1871.4 2654.1 1873.2 2617.1 1873.6 2610.6 C1873.9 2604.1 1874.9 2586.9 1875.2 2584.5 C1875.4 2582.1 1876.0 2581.2 1876.2 2581.8 C1876.4 2582.5 1877.2 2588.6 1877.5 2592.3 C1877.8 2596.0 1879.0 2618.6 1879.3 2626.3 C1879.7 2633.9 1881.5 2674.8 1882.0 2683.8 C1882.4 2692.7 1884.2 2727.5 1884.6 2733.4 C1885.0 2739.3 1886.3 2752.7 1886.7 2754.3 C1887.0 2756.0 1888.2 2754.5 1888.5 2753.0 C1888.7 2751.5 1889.6 2740.1 1889.8 2736.0 C1890.0 2732.0 1890.9 2708.1 1891.1 2704.7 C1891.3 2701.2 1892.4 2694.9 1892.7 2694.2 C1892.9 2693.6 1894.0 2695.1 1894.2 2696.8 C1894.5 2698.6 1895.5 2711.4 1895.8 2715.1 C1896.1 2718.8 1897.4 2737.7 1897.6 2741.3 C1897.9 2744.8 1898.8 2756.8 1898.9 2758.2" fill="none" stroke="#42506e" stroke-width="5.2" stroke-linejoin="round" stroke-linecap="round"/>
<text x="671" y="2674.6" class="k">keine</text>
<text x="671" y="2712.6" class="k">Daten</text>
<text transform="translate(354.5 2597.8) rotate(-90)" class="a" text-anchor="middle">Herzfrequenz (bpm)</text>
<text x="1193" y="3024.0" class="a" text-anchor="middle">Zeit (hr:min)</text>
<text x="1193" y="3095.2" class="a" text-anchor="middle">(b) Landemodulpilot</text>
<text x="1194" y="3219.4" class="c" text-anchor="middle">Figure 10-1. - Herzfrequenzen während des ersten Außenbordeinsatzes.</text>
</svg>
</body>
</html>
